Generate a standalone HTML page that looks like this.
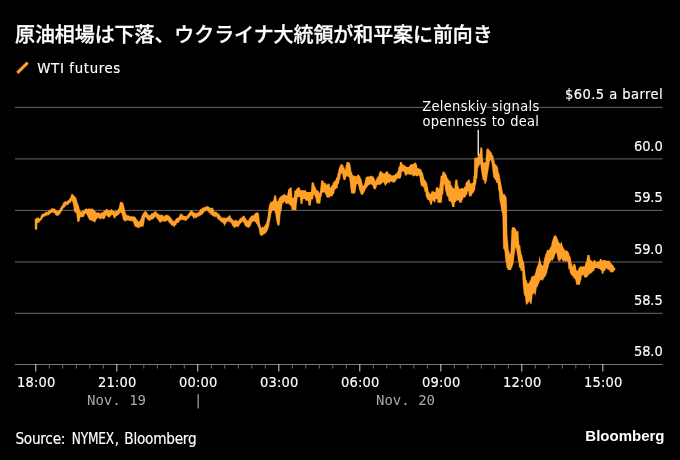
<!DOCTYPE html>
<html lang="ja"><head><meta charset="utf-8"><title>原油相場は下落、ウクライナ大統領が和平案に前向き</title>
<style>
html,body{margin:0;padding:0;background:#000;}
body{width:680px;height:460px;overflow:hidden;position:relative;}
svg{position:absolute;left:0;top:0;display:block;}
text{font-family:"DejaVu Sans Condensed","DejaVu Sans","Liberation Sans",sans-serif;font-stretch:condensed;font-size:14.5px;fill:#fff;white-space:pre;stroke:#fff;stroke-width:0.15px;}
.title{font-family:"Liberation Sans","Noto Sans CJK JP",sans-serif;font-stretch:normal;font-weight:500;font-size:20px;letter-spacing:-0.08px;stroke:#fff;stroke-width:0.3;}
.legend{font-size:14.8px;letter-spacing:0.65px;}
.yl{font-size:14.5px;letter-spacing:0.45px;text-anchor:end;}
.xl{font-size:14.5px;letter-spacing:0.2px;text-anchor:middle;}
.dl{font-family:"DejaVu Sans Mono","Liberation Mono",monospace;font-stretch:normal;font-size:14px;fill:#aaa;stroke:none;text-anchor:middle;}
.ann{font-size:14.5px;letter-spacing:0.3px;paint-order:stroke;stroke:#000;stroke-width:1.6px;stroke-linejoin:round;}
.src{font-size:15.2px;letter-spacing:-0.25px;}
.logo{font-family:"Liberation Sans",sans-serif;font-stretch:normal;font-weight:bold;stroke:none;font-size:15px;letter-spacing:0px;text-anchor:end;}
</style></head><body>
<svg width="680" height="460" viewBox="0 0 680 460">
<rect width="680" height="460" fill="#000"/>
<text class="title" x="15" y="42.2">原油相場は下落、ウクライナ大統領が和平案に前向き</text>
<path d="M17.3,72.9 L27.7,62.6" stroke="#ffa028" stroke-width="3" fill="none"/>
<text class="legend" x="37.3" y="73.1">WTI futures</text>
<g>
<rect x="15" y="106.85" width="647.5" height="1" fill="#686868"/>
<rect x="15" y="158.4" width="647.5" height="1" fill="#686868"/>
<rect x="15" y="209.9" width="647.5" height="1" fill="#686868"/>
<rect x="15" y="261.5" width="647.5" height="1" fill="#686868"/>
<rect x="15" y="312.8" width="647.5" height="1" fill="#686868"/>
<rect x="15" y="364.0" width="647.5" height="1" fill="#787878"/>
</g><g>
<rect x="35.3" y="364.0" width="1" height="7.5" fill="#d0d0d0"/>
<rect x="48.8" y="364.0" width="1" height="4.5" fill="#6e6e6e"/>
<rect x="62.3" y="364.0" width="1" height="4.5" fill="#6e6e6e"/>
<rect x="75.8" y="364.0" width="1" height="4.5" fill="#6e6e6e"/>
<rect x="89.3" y="364.0" width="1" height="4.5" fill="#6e6e6e"/>
<rect x="102.8" y="364.0" width="1" height="4.5" fill="#6e6e6e"/>
<rect x="116.3" y="364.0" width="1" height="7.5" fill="#d0d0d0"/>
<rect x="129.8" y="364.0" width="1" height="4.5" fill="#6e6e6e"/>
<rect x="143.3" y="364.0" width="1" height="4.5" fill="#6e6e6e"/>
<rect x="156.8" y="364.0" width="1" height="4.5" fill="#6e6e6e"/>
<rect x="170.3" y="364.0" width="1" height="4.5" fill="#6e6e6e"/>
<rect x="183.8" y="364.0" width="1" height="4.5" fill="#6e6e6e"/>
<rect x="197.3" y="364.0" width="1" height="7.5" fill="#d0d0d0"/>
<rect x="210.8" y="364.0" width="1" height="4.5" fill="#6e6e6e"/>
<rect x="224.3" y="364.0" width="1" height="4.5" fill="#6e6e6e"/>
<rect x="237.8" y="364.0" width="1" height="4.5" fill="#6e6e6e"/>
<rect x="251.3" y="364.0" width="1" height="4.5" fill="#6e6e6e"/>
<rect x="264.8" y="364.0" width="1" height="4.5" fill="#6e6e6e"/>
<rect x="278.3" y="364.0" width="1" height="7.5" fill="#d0d0d0"/>
<rect x="291.8" y="364.0" width="1" height="4.5" fill="#6e6e6e"/>
<rect x="305.3" y="364.0" width="1" height="4.5" fill="#6e6e6e"/>
<rect x="318.8" y="364.0" width="1" height="4.5" fill="#6e6e6e"/>
<rect x="332.3" y="364.0" width="1" height="4.5" fill="#6e6e6e"/>
<rect x="345.8" y="364.0" width="1" height="4.5" fill="#6e6e6e"/>
<rect x="359.3" y="364.0" width="1" height="7.5" fill="#d0d0d0"/>
<rect x="372.8" y="364.0" width="1" height="4.5" fill="#6e6e6e"/>
<rect x="386.3" y="364.0" width="1" height="4.5" fill="#6e6e6e"/>
<rect x="399.8" y="364.0" width="1" height="4.5" fill="#6e6e6e"/>
<rect x="413.3" y="364.0" width="1" height="4.5" fill="#6e6e6e"/>
<rect x="426.8" y="364.0" width="1" height="4.5" fill="#6e6e6e"/>
<rect x="440.3" y="364.0" width="1" height="7.5" fill="#d0d0d0"/>
<rect x="453.8" y="364.0" width="1" height="4.5" fill="#6e6e6e"/>
<rect x="467.3" y="364.0" width="1" height="4.5" fill="#6e6e6e"/>
<rect x="480.8" y="364.0" width="1" height="4.5" fill="#6e6e6e"/>
<rect x="494.3" y="364.0" width="1" height="4.5" fill="#6e6e6e"/>
<rect x="507.8" y="364.0" width="1" height="4.5" fill="#6e6e6e"/>
<rect x="521.3" y="364.0" width="1" height="7.5" fill="#d0d0d0"/>
<rect x="534.8" y="364.0" width="1" height="4.5" fill="#6e6e6e"/>
<rect x="548.3" y="364.0" width="1" height="4.5" fill="#6e6e6e"/>
<rect x="561.8" y="364.0" width="1" height="4.5" fill="#6e6e6e"/>
<rect x="575.3" y="364.0" width="1" height="4.5" fill="#6e6e6e"/>
<rect x="588.8" y="364.0" width="1" height="4.5" fill="#6e6e6e"/>
<rect x="602.3" y="364.0" width="1" height="7.5" fill="#d0d0d0"/>
</g>
<text class="yl" x="663" y="99.3">$60.5 a barrel</text>
<text class="yl" x="662.6" y="150.7" style="letter-spacing:-0.1px">60.0</text>
<text class="yl" x="662.6" y="202.1" style="letter-spacing:-0.1px">59.5</text>
<text class="yl" x="662.6" y="253.5" style="letter-spacing:-0.1px">59.0</text>
<text class="yl" x="662.6" y="304.9" style="letter-spacing:-0.1px">58.5</text>
<text class="yl" x="662.6" y="356.3" style="letter-spacing:-0.1px">58.0</text>
<text class="xl" x="36.3" y="387">18:00</text>
<text class="xl" x="117.3" y="387">21:00</text>
<text class="xl" x="198.3" y="387">00:00</text>
<text class="xl" x="279.3" y="387">03:00</text>
<text class="xl" x="360.3" y="387">06:00</text>
<text class="xl" x="441.3" y="387">09:00</text>
<text class="xl" x="522.3" y="387">12:00</text>
<text class="xl" x="603.3" y="387">15:00</text>
<text class="dl" x="116.5" y="405">Nov. 19</text>
<text class="dl" x="405.5" y="405">Nov. 20</text>
<rect x="197.6" y="394" width="1.1" height="14.5" fill="#b4b4b4"/>
<rect x="477.6" y="129.8" width="1.25" height="26" fill="#fff"/>
<text class="ann" x="422.3" y="111">Zelenskiy signals</text>
<text class="ann" x="422.6" y="126.4" style="letter-spacing:0.2px;word-spacing:0.75px">openness to deal</text>
<path d="M34.90,218.50 L35.40,218.89 L35.90,218.65 L36.40,217.91 L36.90,217.80 L37.40,217.68 L37.90,217.90 L38.40,217.46 L38.90,218.22 L39.40,218.20 L39.90,218.81 L40.40,217.85 L40.90,215.85 L41.40,215.08 L41.90,213.90 L42.40,214.24 L42.90,213.99 L43.40,213.18 L43.90,213.93 L44.40,212.99 L44.90,212.68 L45.40,212.66 L45.90,211.39 L46.40,211.69 L46.90,211.97 L47.40,212.32 L47.90,211.54 L48.40,210.76 L48.90,210.10 L49.40,210.62 L49.90,210.28 L50.40,209.62 L50.90,209.09 L51.40,209.08 L51.90,208.19 L52.40,207.63 L52.90,208.58 L53.40,208.95 L53.90,208.47 L54.40,208.38 L54.90,209.09 L55.40,209.43 L55.90,210.03 L56.40,210.60 L56.90,210.29 L57.40,211.07 L57.90,211.57 L58.40,210.44 L58.90,210.05 L59.40,210.39 L59.90,208.80 L60.40,208.08 L60.90,207.70 L61.40,206.01 L61.90,205.64 L62.40,205.38 L62.90,203.65 L63.40,202.75 L63.90,201.93 L64.40,201.87 L64.90,201.45 L65.40,201.29 L65.90,201.49 L66.40,201.54 L66.90,201.48 L67.40,200.75 L67.90,200.64 L68.40,199.89 L68.90,199.96 L69.40,198.70 L69.90,198.11 L70.40,197.74 L70.90,196.08 L71.40,194.42 L71.90,193.65 L72.40,194.44 L72.90,194.02 L73.40,194.92 L73.90,195.56 L74.40,196.07 L74.90,196.84 L75.40,197.03 L75.90,197.67 L76.40,198.68 L76.90,200.46 L77.40,202.62 L77.90,203.77 L78.40,205.10 L78.90,206.38 L79.40,208.83 L79.90,210.17 L80.40,211.06 L80.90,211.97 L81.40,211.70 L81.90,211.46 L82.40,210.63 L82.90,210.46 L83.40,210.72 L83.90,210.71 L84.40,210.00 L84.90,208.92 L85.40,208.91 L85.90,208.65 L86.40,208.32 L86.90,208.65 L87.40,209.34 L87.90,208.97 L88.40,208.98 L88.90,208.32 L89.40,208.77 L89.90,208.38 L90.40,209.26 L90.90,208.90 L91.40,208.55 L91.90,209.06 L92.40,208.54 L92.90,208.77 L93.40,209.71 L93.90,209.87 L94.40,210.44 L94.90,211.05 L95.40,211.54 L95.90,212.07 L96.40,212.54 L96.90,212.65 L97.40,212.83 L97.90,212.75 L98.40,212.58 L98.90,212.24 L99.40,212.80 L99.90,213.67 L100.40,213.46 L100.90,213.27 L101.40,212.53 L101.90,212.32 L102.40,212.40 L102.90,211.90 L103.40,211.81 L103.90,211.19 L104.40,210.83 L104.90,210.51 L105.40,209.92 L105.90,209.50 L106.40,209.14 L106.90,208.75 L107.40,209.60 L107.90,209.65 L108.40,209.97 L108.90,210.34 L109.40,210.73 L109.90,209.92 L110.40,210.02 L110.90,209.87 L111.40,208.91 L111.90,209.45 L112.40,210.53 L112.90,210.48 L113.40,210.98 L113.90,210.92 L114.40,211.43 L114.90,211.38 L115.40,210.96 L115.90,211.45 L116.40,210.77 L116.90,211.11 L117.40,210.33 L117.90,209.58 L118.40,208.77 L118.90,207.63 L119.40,205.67 L119.90,203.07 L120.40,202.03 L120.90,201.74 L121.40,202.32 L121.90,201.96 L122.40,202.66 L122.90,202.57 L123.40,203.65 L123.90,206.07 L124.40,208.19 L124.90,209.96 L125.40,212.13 L125.90,213.74 L126.40,214.19 L126.90,214.90 L127.40,215.55 L127.90,215.49 L128.40,215.51 L128.90,215.58 L129.40,216.14 L129.90,215.87 L130.40,216.63 L130.90,216.61 L131.40,216.35 L131.90,216.26 L132.40,216.50 L132.90,216.36 L133.40,216.79 L133.90,216.77 L134.40,216.48 L134.90,216.82 L135.40,217.41 L135.90,217.50 L136.40,219.37 L136.90,219.42 L137.40,220.31 L137.90,221.00 L138.40,221.22 L138.90,222.09 L139.40,220.94 L139.90,220.91 L140.40,219.45 L140.90,218.86 L141.40,217.23 L141.90,215.71 L142.40,214.78 L142.90,213.71 L143.40,213.08 L143.90,212.60 L144.40,212.00 L144.90,211.12 L145.40,210.76 L145.90,211.93 L146.40,211.90 L146.90,211.81 L147.40,214.00 L147.90,214.78 L148.40,214.25 L148.90,214.88 L149.40,215.43 L149.90,215.24 L150.40,215.11 L150.90,214.10 L151.40,213.59 L151.90,213.17 L152.40,213.43 L152.90,213.15 L153.40,212.59 L153.90,212.64 L154.40,211.89 L154.90,211.77 L155.40,211.55 L155.90,210.95 L156.40,212.37 L156.90,212.89 L157.40,213.04 L157.90,213.44 L158.40,214.24 L158.90,214.47 L159.40,214.18 L159.90,215.41 L160.40,215.14 L160.90,214.31 L161.40,215.04 L161.90,214.92 L162.40,214.97 L162.90,215.28 L163.40,216.25 L163.90,216.74 L164.40,215.27 L164.90,216.15 L165.40,215.38 L165.90,214.79 L166.40,214.64 L166.90,214.42 L167.40,215.43 L167.90,215.12 L168.40,215.69 L168.90,215.40 L169.40,216.38 L169.90,216.33 L170.40,217.58 L170.90,217.77 L171.40,218.64 L171.90,218.83 L172.40,220.36 L172.90,220.79 L173.40,221.05 L173.90,220.61 L174.40,221.79 L174.90,220.45 L175.40,219.71 L175.90,218.84 L176.40,218.47 L176.90,218.00 L177.40,217.99 L177.90,217.42 L178.40,217.76 L178.90,216.53 L179.40,215.97 L179.90,214.66 L180.40,213.68 L180.90,213.80 L181.40,213.53 L181.90,214.80 L182.40,214.54 L182.90,214.69 L183.40,216.04 L183.90,215.99 L184.40,216.25 L184.90,216.10 L185.40,216.08 L185.90,216.29 L186.40,216.66 L186.90,215.82 L187.40,215.26 L187.90,214.73 L188.40,213.71 L188.90,213.30 L189.40,212.67 L189.90,211.63 L190.40,211.08 L190.90,210.14 L191.40,210.90 L191.90,210.55 L192.40,211.56 L192.90,211.23 L193.40,211.91 L193.90,212.95 L194.40,213.03 L194.90,212.06 L195.40,213.46 L195.90,213.23 L196.40,212.84 L196.90,213.25 L197.40,213.25 L197.90,211.84 L198.40,212.22 L198.90,212.23 L199.40,211.16 L199.90,210.22 L200.40,209.19 L200.90,209.06 L201.40,209.23 L201.90,208.11 L202.40,208.42 L202.90,207.41 L203.40,207.73 L203.90,207.29 L204.40,207.34 L204.90,206.67 L205.40,207.34 L205.90,206.99 L206.40,205.83 L206.90,206.89 L207.40,206.11 L207.90,206.50 L208.40,206.51 L208.90,207.18 L209.40,206.94 L209.90,207.47 L210.40,208.33 L210.90,208.37 L211.40,207.71 L211.90,208.11 L212.40,207.65 L212.90,207.96 L213.40,209.56 L213.90,211.34 L214.40,211.42 L214.90,212.24 L215.40,211.71 L215.90,212.01 L216.40,212.11 L216.90,212.19 L217.40,213.57 L217.90,213.54 L218.40,214.01 L218.90,213.17 L219.40,214.69 L219.90,215.46 L220.40,215.92 L220.90,216.51 L221.40,216.94 L221.90,218.01 L222.40,218.15 L222.90,217.42 L223.40,218.23 L223.90,217.32 L224.40,217.94 L224.90,217.64 L225.40,218.53 L225.90,217.75 L226.40,218.14 L226.90,217.02 L227.40,217.84 L227.90,217.10 L228.40,216.02 L228.90,216.39 L229.40,214.92 L229.90,215.49 L230.40,215.81 L230.90,217.83 L231.40,218.62 L231.90,218.18 L232.40,219.69 L232.90,219.39 L233.40,219.95 L233.90,221.15 L234.40,220.87 L234.90,220.65 L235.40,220.10 L235.90,219.45 L236.40,220.45 L236.90,220.13 L237.40,220.70 L237.90,220.90 L238.40,220.81 L238.90,220.84 L239.40,219.22 L239.90,218.23 L240.40,218.64 L240.90,217.60 L241.40,217.77 L241.90,217.57 L242.40,216.85 L242.90,216.43 L243.40,215.38 L243.90,216.10 L244.40,216.18 L244.90,217.01 L245.40,218.10 L245.90,218.71 L246.40,219.44 L246.90,220.11 L247.40,220.66 L247.90,220.64 L248.40,220.72 L248.90,219.15 L249.40,218.21 L249.90,217.90 L250.40,217.15 L250.90,216.59 L251.40,215.62 L251.90,215.91 L252.40,215.63 L252.90,215.33 L253.40,215.27 L253.90,215.22 L254.40,214.87 L254.90,213.48 L255.40,213.24 L255.90,212.67 L256.40,212.98 L256.90,212.33 L257.40,212.52 L257.90,212.64 L258.40,213.12 L258.90,214.95 L259.40,219.35 L259.90,223.97 L260.40,225.62 L260.90,227.16 L261.40,227.29 L261.90,227.89 L262.40,226.78 L262.90,227.26 L263.40,227.14 L263.90,227.12 L264.40,225.87 L264.90,226.00 L265.40,224.47 L265.90,224.12 L266.40,222.05 L266.90,220.58 L267.40,218.00 L267.90,215.20 L268.40,210.14 L268.90,207.36 L269.40,204.37 L269.90,203.28 L270.40,202.60 L270.90,202.07 L271.40,201.90 L271.90,201.49 L272.40,201.73 L272.90,200.78 L273.40,200.21 L273.90,198.17 L274.40,195.48 L274.90,194.93 L275.40,195.50 L275.90,195.86 L276.40,198.52 L276.90,200.91 L277.40,201.41 L277.90,201.21 L278.40,200.23 L278.90,198.73 L279.40,197.65 L279.90,197.21 L280.40,196.67 L280.90,196.38 L281.40,195.80 L281.90,195.41 L282.40,195.37 L282.90,195.10 L283.40,194.90 L283.90,194.17 L284.40,193.74 L284.90,194.68 L285.40,195.05 L285.90,195.37 L286.40,195.12 L286.90,196.04 L287.40,194.87 L287.90,192.35 L288.40,189.01 L288.90,189.11 L289.40,188.80 L289.90,188.18 L290.40,187.49 L290.52,187.49 L290.65,187.49 L290.77,187.49 L290.90,187.49 L291.02,187.49 L291.15,187.49 L291.27,187.49 L291.40,187.49 L291.52,187.61 L291.65,188.80 L291.77,190.64 L291.90,192.48 L292.02,194.33 L292.15,196.17 L292.27,197.45 L292.40,197.81 L292.52,197.81 L292.65,197.81 L292.77,197.81 L292.90,197.81 L293.02,197.81 L293.15,197.81 L293.27,197.81 L293.40,197.81 L293.52,197.81 L293.65,197.81 L293.77,197.81 L293.90,197.22 L294.02,196.05 L294.15,194.75 L294.27,193.45 L294.40,192.16 L294.52,190.98 L294.65,190.55 L294.77,190.55 L294.90,190.55 L295.02,190.55 L295.15,190.55 L295.27,190.55 L295.40,190.55 L295.52,190.55 L295.65,190.55 L295.77,190.45 L295.90,190.18 L296.02,189.84 L296.15,189.50 L296.27,189.16 L296.40,188.82 L296.52,188.66 L296.65,188.64 L296.77,188.64 L296.90,188.64 L297.02,188.64 L297.15,188.64 L297.27,188.61 L297.40,188.47 L297.52,188.26 L297.65,188.06 L297.77,187.85 L297.90,187.65 L298.02,187.52 L298.15,187.49 L298.27,187.49 L298.40,187.49 L298.52,187.49 L298.65,187.49 L298.77,187.49 L298.90,187.49 L299.02,187.49 L299.15,187.49 L299.27,187.49 L299.40,187.49 L299.52,187.49 L299.65,187.75 L299.77,188.20 L299.90,188.68 L300.02,189.16 L300.15,189.64 L300.27,190.03 L300.40,190.17 L300.52,190.17 L300.65,190.17 L300.77,190.17 L300.90,190.17 L301.02,190.17 L301.15,190.17 L301.27,190.17 L301.40,190.17 L301.52,190.17 L301.65,190.17 L301.77,190.17 L301.90,190.17 L302.02,190.17 L302.15,190.17 L302.27,190.17 L302.40,190.17 L302.52,190.17 L302.65,190.17 L302.77,190.17 L302.90,190.17 L303.02,190.17 L303.15,190.17 L303.27,190.17 L303.40,190.17 L303.52,190.17 L303.65,190.17 L303.77,190.17 L303.90,190.17 L304.02,190.17 L304.15,190.17 L304.27,190.17 L304.40,190.17 L304.52,190.17 L304.65,190.17 L304.77,190.17 L304.90,190.17 L305.02,190.17 L305.15,190.17 L305.27,190.17 L305.40,190.17 L305.52,190.17 L305.65,190.17 L305.77,190.36 L305.90,190.70 L306.02,191.04 L306.15,191.38 L306.27,191.72 L306.40,191.99 L306.52,192.08 L306.65,192.08 L306.77,192.08 L306.90,192.08 L307.02,192.08 L307.15,192.08 L307.27,192.08 L307.40,192.08 L307.52,192.08 L307.65,192.08 L307.77,192.08 L307.90,192.08 L308.02,192.08 L308.15,192.08 L308.27,192.08 L308.40,192.08 L308.52,192.08 L308.65,192.08 L308.77,192.08 L308.90,192.08 L309.02,192.08 L309.15,192.08 L309.27,192.08 L309.40,192.08 L309.52,192.08 L309.65,192.08 L309.77,192.08 L309.90,192.08 L310.02,192.08 L310.15,192.08 L310.27,192.08 L310.40,192.08 L310.52,192.08 L310.65,192.08 L310.77,192.08 L310.90,192.08 L311.02,191.93 L311.15,190.80 L311.27,189.10 L311.40,187.39 L311.52,185.68 L311.65,183.98 L311.77,182.83 L311.90,182.52 L312.02,182.52 L312.15,182.52 L312.27,182.52 L312.40,182.52 L312.52,182.52 L312.65,182.52 L312.77,182.52 L312.90,182.52 L313.02,182.52 L313.15,182.52 L313.27,182.52 L313.40,182.52 L313.52,182.52 L313.65,182.52 L313.77,182.79 L313.90,183.34 L314.02,183.96 L314.15,184.57 L314.27,185.19 L314.40,185.75 L314.52,185.96 L314.65,185.96 L314.77,185.96 L314.90,186.10 L315.02,186.44 L315.15,186.85 L315.27,187.26 L315.40,187.67 L315.52,188.08 L315.65,188.25 L315.77,188.26 L315.90,188.26 L316.02,188.35 L316.15,188.66 L316.27,189.07 L316.40,189.48 L316.52,189.89 L316.65,190.30 L316.77,190.51 L316.90,190.55 L317.02,190.55 L317.15,190.55 L317.27,190.55 L317.40,190.55 L317.52,190.55 L317.65,190.55 L317.77,190.55 L317.90,190.55 L318.02,190.55 L318.15,190.55 L318.27,190.56 L318.40,190.81 L318.52,191.22 L318.65,191.63 L318.77,192.04 L318.90,192.45 L319.02,192.75 L319.15,192.84 L319.27,192.84 L319.40,192.84 L319.52,192.84 L319.65,192.84 L319.77,192.84 L319.90,192.38 L320.02,191.49 L320.15,190.54 L320.27,189.58 L320.40,188.63 L320.52,187.79 L320.65,186.98 L320.77,185.90 L320.90,184.67 L321.02,183.44 L321.15,182.21 L321.27,181.06 L321.40,180.61 L321.52,180.61 L321.65,180.61 L321.77,180.61 L321.90,180.61 L322.02,180.61 L322.15,180.61 L322.27,180.61 L322.40,180.61 L322.52,180.61 L322.65,180.61 L322.77,180.61 L322.90,180.61 L323.02,180.61 L323.15,180.61 L323.27,180.68 L323.40,180.97 L323.52,181.38 L323.65,181.79 L323.77,182.20 L323.90,182.61 L324.02,182.85 L324.15,182.90 L324.27,182.90 L324.40,182.90 L324.52,182.90 L324.65,182.90 L324.77,182.90 L324.90,182.90 L325.02,182.90 L325.15,182.90 L325.27,182.90 L325.40,182.90 L325.52,182.90 L325.65,183.10 L325.77,183.43 L325.90,183.77 L326.02,184.11 L326.15,184.45 L326.27,184.72 L326.40,184.81 L326.52,184.81 L326.65,184.81 L326.77,184.81 L326.90,184.81 L327.02,184.81 L327.15,184.73 L327.27,184.55 L327.40,184.34 L327.52,184.14 L327.65,183.93 L327.77,183.74 L327.90,183.67 L328.02,183.67 L328.15,183.67 L328.27,183.67 L328.40,183.67 L328.52,183.67 L328.65,183.67 L328.77,183.67 L328.90,183.67 L329.02,183.67 L329.15,183.67 L329.27,183.67 L329.40,183.81 L329.52,184.32 L329.65,185.00 L329.77,185.69 L329.90,186.37 L330.02,187.05 L330.15,187.42 L330.27,187.49 L330.40,187.49 L330.52,187.49 L330.65,187.49 L330.77,187.49 L330.90,187.46 L331.02,187.19 L331.15,186.78 L331.27,186.37 L331.40,185.96 L331.52,185.56 L331.65,185.27 L331.77,185.20 L331.90,185.20 L332.02,185.20 L332.15,185.20 L332.27,185.20 L332.40,185.20 L332.52,184.90 L332.65,184.38 L332.77,183.84 L332.90,183.29 L333.02,182.74 L333.15,182.29 L333.27,182.14 L333.40,182.14 L333.52,182.14 L333.65,182.14 L333.77,182.14 L333.90,182.14 L334.02,182.03 L334.15,181.79 L334.27,181.52 L334.40,181.25 L334.52,180.98 L334.65,180.71 L334.77,180.61 L334.90,180.61 L335.02,180.61 L335.15,180.61 L335.27,180.61 L335.40,180.61 L335.52,180.47 L335.65,180.05 L335.77,179.50 L335.90,178.96 L336.02,178.41 L336.15,177.86 L336.27,177.59 L336.40,177.55 L336.52,177.55 L336.65,177.55 L336.77,177.55 L336.90,177.55 L337.02,177.46 L337.15,176.90 L337.27,176.08 L337.40,175.26 L337.52,174.44 L337.65,173.62 L337.77,173.10 L337.90,172.96 L338.02,172.96 L338.15,172.96 L338.27,172.96 L338.40,169.73 L338.52,169.73 L338.65,169.73 L338.77,169.73 L338.90,169.28 L339.02,168.73 L339.15,168.18 L339.27,167.64 L339.40,167.09 L339.52,166.67 L339.65,166.67 L339.77,166.67 L339.90,166.67 L340.02,166.40 L340.15,165.99 L340.27,165.58 L340.40,165.17 L340.52,164.76 L340.65,164.37 L340.77,164.37 L340.90,164.37 L341.02,164.37 L341.15,164.37 L341.27,164.37 L341.40,164.37 L341.52,164.37 L341.65,164.37 L341.77,164.37 L341.90,164.40 L342.02,164.47 L342.15,164.54 L342.27,164.60 L342.40,164.67 L342.52,164.74 L342.65,164.76 L342.77,164.76 L342.90,164.76 L343.02,164.85 L343.15,165.32 L343.27,165.80 L343.40,166.28 L343.52,166.76 L343.65,167.23 L343.77,167.43 L343.90,167.43 L344.02,167.43 L344.15,167.44 L344.27,167.85 L344.40,168.26 L344.52,168.67 L344.65,169.08 L344.77,169.49 L344.90,169.73 L345.02,169.73 L345.15,169.73 L345.27,169.73 L345.40,169.04 L345.52,168.22 L345.65,167.40 L345.77,166.58 L345.90,165.76 L346.02,165.14 L346.15,164.74 L346.27,164.20 L346.40,163.65 L346.52,163.11 L346.65,162.56 L346.77,162.08 L346.90,162.08 L347.02,162.08 L347.15,162.08 L347.27,162.08 L347.40,162.08 L347.52,162.08 L347.65,162.08 L347.77,162.08 L347.90,162.08 L348.02,162.08 L348.15,162.08 L348.27,162.08 L348.40,162.13 L348.52,162.27 L348.65,162.40 L348.77,162.54 L348.90,162.68 L349.02,162.81 L349.15,162.85 L349.27,162.85 L349.40,162.85 L349.52,162.85 L349.65,162.85 L349.77,162.85 L349.90,162.94 L350.02,163.62 L350.15,164.31 L350.27,164.99 L350.40,165.67 L350.52,166.35 L350.65,166.69 L350.77,167.65 L350.90,168.60 L351.02,169.56 L351.15,170.51 L351.27,171.47 L351.40,172.02 L351.52,172.02 L351.65,172.02 L351.77,172.02 L351.90,172.48 L352.02,173.03 L352.15,173.58 L352.27,174.12 L352.40,174.67 L352.52,175.08 L352.65,175.08 L352.77,175.08 L352.90,175.08 L353.02,175.17 L353.15,175.31 L353.27,175.44 L353.40,175.58 L353.52,175.72 L353.65,175.84 L353.77,175.84 L353.90,175.84 L354.02,175.84 L354.15,175.84 L354.27,175.84 L354.40,175.84 L354.52,175.84 L354.65,175.84 L354.77,175.84 L354.90,175.87 L355.02,175.94 L355.15,176.01 L355.27,176.07 L355.40,176.14 L355.52,176.21 L355.65,176.22 L355.77,176.22 L355.90,176.22 L356.02,176.22 L356.15,176.22 L356.27,176.22 L356.40,176.22 L356.52,176.22 L356.65,176.22 L356.77,176.20 L356.90,175.93 L357.02,175.65 L357.15,175.38 L357.27,175.11 L357.40,174.83 L357.52,174.70 L357.65,174.70 L357.77,174.70 L357.90,174.70 L358.02,174.70 L358.15,174.70 L358.27,174.70 L358.40,174.70 L358.52,174.70 L358.65,174.70 L358.77,174.70 L358.90,174.70 L359.02,174.70 L359.15,174.95 L359.27,175.29 L359.40,175.63 L359.52,175.97 L359.65,176.32 L359.77,176.61 L359.90,176.61 L360.02,176.61 L360.15,176.61 L360.27,176.84 L360.40,177.25 L360.52,177.66 L360.65,178.07 L360.77,178.48 L360.90,178.89 L361.02,178.90 L361.15,178.90 L361.27,178.90 L361.40,179.17 L361.52,179.85 L361.65,180.54 L361.77,181.22 L361.90,181.90 L362.02,182.58 L362.15,182.88 L362.27,183.42 L362.40,183.97 L362.52,184.51 L362.65,185.06 L362.77,185.61 L362.90,185.78 L363.02,185.78 L363.15,185.78 L363.27,185.78 L363.40,185.78 L363.52,185.78 L363.65,185.77 L363.77,185.49 L363.90,185.22 L364.02,184.95 L364.15,184.68 L364.27,184.40 L364.40,184.25 L364.52,183.62 L364.65,182.93 L364.77,182.25 L364.90,181.57 L365.02,180.88 L365.15,180.43 L365.27,179.98 L365.40,179.44 L365.52,178.89 L365.65,178.35 L365.77,177.80 L365.90,177.37 L366.02,177.37 L366.15,177.37 L366.27,177.37 L366.40,177.28 L366.52,177.15 L366.65,177.01 L366.77,176.87 L366.90,176.74 L367.02,176.61 L367.15,176.61 L367.27,176.61 L367.40,176.61 L367.52,176.61 L367.65,176.61 L367.77,176.61 L367.90,176.61 L368.02,176.61 L368.15,176.61 L368.27,176.61 L368.40,176.61 L368.52,176.61 L368.65,176.61 L368.77,176.61 L368.90,176.61 L369.02,176.61 L369.15,176.61 L369.27,176.61 L369.40,176.61 L369.52,176.61 L369.65,176.61 L369.77,176.59 L369.90,176.45 L370.02,176.32 L370.15,176.18 L370.27,176.04 L370.40,175.91 L370.52,175.84 L370.65,175.84 L370.77,175.84 L370.90,175.84 L371.02,175.84 L371.15,175.84 L371.27,175.84 L371.40,175.84 L371.52,175.84 L371.65,175.84 L371.77,175.96 L371.90,176.09 L372.02,176.23 L372.15,176.36 L372.27,176.50 L372.40,176.61 L372.52,176.61 L372.65,176.61 L372.77,176.61 L372.90,176.61 L373.02,176.61 L373.15,176.61 L373.27,176.61 L373.40,176.61 L373.52,176.61 L373.65,176.83 L373.77,177.24 L373.90,177.65 L374.02,178.06 L374.15,178.47 L374.27,178.88 L374.40,178.90 L374.52,178.90 L374.65,178.90 L374.77,179.05 L374.90,179.46 L375.02,179.87 L375.15,180.28 L375.27,180.69 L375.40,181.10 L375.52,181.19 L375.65,181.19 L375.77,181.19 L375.90,181.09 L376.02,180.54 L376.15,180.00 L376.27,179.45 L376.40,178.91 L376.52,178.36 L376.65,178.14 L376.77,178.14 L376.90,178.14 L377.02,178.13 L377.15,177.86 L377.27,177.59 L377.40,177.31 L377.52,177.04 L377.65,176.77 L377.77,176.61 L377.90,176.61 L378.02,176.61 L378.15,176.61 L378.27,176.61 L378.40,176.61 L378.52,176.61 L378.65,176.07 L378.77,175.39 L378.90,174.71 L379.02,174.02 L379.15,173.34 L379.27,172.78 L379.40,172.60 L379.52,172.33 L379.65,172.06 L379.77,171.78 L379.90,171.51 L380.02,171.26 L380.15,171.26 L380.27,171.26 L380.40,171.26 L380.52,171.26 L380.65,171.26 L380.77,171.26 L380.90,171.26 L381.02,171.26 L381.15,171.26 L381.27,171.33 L381.40,171.54 L381.52,171.74 L381.65,171.95 L381.77,172.15 L381.90,172.36 L382.02,172.40 L382.15,172.40 L382.27,172.40 L382.40,172.40 L382.52,172.40 L382.65,172.40 L382.77,172.43 L382.90,172.64 L383.02,172.84 L383.15,173.05 L383.27,173.25 L383.40,173.46 L383.52,173.55 L383.65,173.55 L383.77,173.55 L383.90,173.55 L384.02,173.55 L384.15,173.55 L384.27,173.55 L384.40,173.55 L384.52,173.55 L384.65,173.55 L384.77,173.43 L384.90,173.30 L385.02,173.16 L385.15,173.02 L385.27,172.89 L385.40,172.78 L385.52,172.58 L385.65,172.31 L385.77,172.04 L385.90,171.76 L386.02,171.49 L386.15,171.26 L386.27,171.26 L386.40,171.26 L386.52,171.26 L386.65,171.26 L386.77,171.26 L386.90,171.26 L387.02,171.26 L387.15,171.26 L387.27,171.26 L387.40,171.38 L387.52,171.65 L387.65,171.92 L387.77,172.20 L387.90,172.47 L388.02,172.74 L388.15,172.78 L388.27,172.78 L388.40,172.78 L388.52,172.86 L388.65,173.13 L388.77,173.40 L388.90,173.68 L389.02,173.95 L389.15,174.22 L389.27,174.31 L389.40,174.31 L389.52,174.31 L389.65,174.31 L389.77,174.31 L389.90,174.31 L390.02,174.31 L390.15,174.31 L390.27,174.31 L390.40,174.31 L390.52,174.31 L390.65,174.31 L390.77,174.43 L390.90,174.63 L391.02,174.83 L391.15,175.04 L391.27,175.24 L391.40,175.42 L391.52,175.46 L391.65,175.46 L391.77,175.46 L391.90,175.46 L392.02,175.46 L392.15,175.46 L392.27,175.46 L392.40,175.46 L392.52,175.46 L392.65,175.46 L392.77,175.46 L392.90,175.46 L393.02,175.44 L393.15,175.38 L393.27,175.31 L393.40,175.24 L393.52,175.17 L393.65,175.11 L393.77,175.08 L393.90,175.08 L394.02,175.08 L394.15,175.08 L394.27,175.08 L394.40,175.08 L394.52,175.08 L394.65,175.08 L394.77,175.08 L394.90,175.06 L395.02,174.83 L395.15,174.56 L395.27,174.29 L395.40,174.01 L395.52,173.74 L395.65,173.58 L395.77,173.55 L395.90,173.55 L396.02,173.55 L396.15,173.55 L396.27,173.55 L396.40,173.55 L396.52,173.55 L396.65,173.55 L396.77,173.55 L396.90,173.28 L397.02,172.89 L397.15,172.48 L397.27,172.07 L397.40,171.66 L397.52,171.32 L397.65,171.26 L397.77,171.26 L397.90,171.26 L398.02,170.84 L398.15,170.08 L398.27,169.26 L398.40,168.44 L398.52,167.63 L398.65,166.83 L398.77,166.67 L398.90,166.67 L399.02,166.67 L399.15,166.67 L399.27,166.67 L399.40,166.67 L399.52,166.41 L399.65,165.69 L399.77,164.87 L399.90,164.05 L400.02,163.23 L400.15,162.41 L400.27,162.11 L400.40,162.08 L400.52,162.08 L400.65,162.08 L400.77,162.08 L400.90,162.08 L401.02,162.08 L401.15,162.08 L401.27,162.08 L401.40,162.08 L401.52,162.08 L401.65,162.08 L401.77,162.10 L401.90,162.49 L402.02,162.96 L402.15,163.44 L402.27,163.92 L402.40,164.40 L402.52,164.70 L402.65,164.76 L402.77,164.76 L402.90,164.76 L403.02,164.76 L403.15,164.76 L403.27,164.76 L403.40,164.76 L403.52,164.76 L403.65,164.76 L403.77,164.76 L403.90,164.76 L404.02,164.76 L404.15,164.87 L404.27,165.06 L404.40,165.27 L404.52,165.47 L404.65,165.68 L404.77,165.87 L404.90,165.90 L405.02,165.90 L405.15,165.90 L405.27,165.90 L405.40,165.90 L405.52,165.90 L405.65,165.98 L405.77,166.16 L405.90,166.37 L406.02,166.57 L406.15,166.78 L406.27,166.98 L406.40,167.04 L406.52,167.05 L406.65,167.05 L406.77,167.05 L406.90,167.05 L407.02,167.05 L407.15,167.05 L407.27,167.05 L407.40,167.05 L407.52,167.05 L407.65,167.05 L407.77,167.05 L407.90,167.05 L408.02,167.05 L408.15,167.05 L408.27,167.05 L408.40,167.05 L408.52,167.05 L408.65,167.05 L408.77,166.89 L408.90,166.68 L409.02,166.48 L409.15,166.27 L409.27,166.07 L409.40,165.93 L409.52,165.90 L409.65,165.90 L409.77,165.90 L409.90,165.72 L410.02,165.46 L410.15,165.19 L410.27,164.91 L410.40,164.64 L410.52,164.42 L410.65,164.37 L410.77,164.37 L410.90,164.37 L411.02,164.37 L411.15,164.37 L411.27,164.37 L411.40,164.37 L411.52,164.37 L411.65,164.37 L411.77,164.37 L411.90,164.37 L412.02,164.37 L412.15,164.35 L412.27,164.29 L412.40,164.22 L412.52,164.15 L412.65,164.08 L412.77,164.01 L412.90,163.99 L413.02,163.99 L413.15,163.99 L413.27,163.99 L413.40,163.99 L413.52,163.99 L413.65,163.95 L413.77,163.78 L413.90,163.57 L414.02,163.37 L414.15,163.16 L414.27,162.96 L414.40,162.86 L414.52,162.85 L414.65,162.85 L414.77,162.85 L414.90,162.85 L415.02,162.85 L415.15,162.85 L415.27,162.85 L415.40,162.85 L415.52,162.85 L415.65,162.85 L415.77,162.85 L415.90,162.85 L416.02,163.04 L416.15,163.31 L416.27,163.58 L416.40,163.86 L416.52,164.13 L416.65,164.34 L416.77,164.80 L416.90,165.46 L417.02,166.14 L417.15,166.82 L417.27,167.50 L417.40,168.09 L417.52,168.20 L417.65,168.20 L417.77,168.20 L417.90,168.20 L418.02,168.20 L418.15,168.20 L418.27,168.20 L418.40,168.20 L418.52,168.20 L418.65,168.20 L418.77,168.20 L418.90,168.20 L419.02,168.24 L419.15,168.37 L419.27,168.50 L419.40,168.64 L419.52,168.78 L419.65,168.91 L419.77,168.96 L419.90,168.96 L420.02,168.96 L420.15,168.96 L420.27,168.96 L420.40,168.96 L420.52,169.01 L420.65,169.24 L420.77,169.51 L420.90,169.78 L421.02,170.05 L421.15,170.33 L421.27,170.47 L421.40,170.49 L421.52,170.49 L421.65,170.50 L421.77,170.83 L421.90,171.24 L422.02,171.65 L422.15,172.06 L422.27,172.47 L422.40,172.74 L422.52,172.78 L422.65,172.78 L422.77,172.78 L422.90,173.20 L423.02,173.80 L423.15,174.41 L423.27,175.03 L423.40,175.64 L423.52,176.13 L423.65,176.59 L423.77,177.17 L423.90,177.78 L424.02,178.40 L424.15,179.01 L424.27,179.56 L424.40,179.66 L424.52,179.66 L424.65,179.66 L424.77,179.66 L424.90,179.66 L425.02,179.66 L425.15,179.80 L425.27,180.11 L425.40,180.45 L425.52,180.79 L425.65,181.13 L425.77,181.48 L425.90,181.57 L426.02,181.58 L426.15,181.58 L426.27,181.67 L426.40,181.96 L426.52,182.30 L426.65,182.64 L426.77,182.99 L426.90,183.33 L427.02,183.54 L427.15,183.90 L427.27,184.31 L427.40,184.72 L427.52,187.31 L427.65,187.31 L427.77,187.34 L427.90,187.61 L428.02,188.43 L428.15,189.25 L428.27,190.07 L428.40,190.89 L428.52,191.61 L428.65,191.90 L428.77,191.90 L428.90,191.90 L429.02,191.97 L429.15,192.31 L429.27,192.65 L429.40,192.99 L429.52,193.33 L429.65,193.64 L429.77,193.81 L429.90,193.81 L430.02,193.81 L430.15,193.81 L430.27,193.81 L430.40,193.81 L430.52,193.81 L430.65,193.81 L430.77,193.81 L430.90,193.75 L431.02,193.38 L431.15,192.91 L431.27,192.43 L431.40,191.95 L431.52,191.48 L431.65,191.14 L431.77,191.14 L431.90,191.14 L432.02,191.14 L432.15,191.14 L432.27,191.14 L432.40,191.14 L432.52,191.14 L432.65,191.14 L432.77,191.14 L432.90,191.14 L433.02,191.14 L433.15,191.15 L433.27,191.21 L433.40,191.35 L433.52,191.48 L433.65,191.62 L433.77,191.76 L433.90,191.87 L434.02,191.90 L434.15,191.90 L434.27,191.90 L434.40,191.90 L434.52,191.90 L434.65,191.90 L434.77,191.90 L434.90,191.90 L435.02,191.90 L435.15,191.90 L435.27,191.90 L435.40,191.90 L435.52,191.74 L435.65,190.92 L435.77,190.10 L435.90,189.28 L436.02,188.46 L436.15,187.71 L436.27,187.31 L436.40,187.31 L436.52,187.31 L436.65,187.31 L436.77,187.31 L436.90,187.31 L437.02,187.31 L437.15,187.31 L437.27,187.31 L437.40,187.31 L437.52,187.31 L437.65,187.31 L437.77,187.34 L437.90,187.49 L438.02,187.69 L438.15,187.90 L438.27,188.10 L438.40,188.30 L438.52,188.46 L438.65,188.46 L438.77,188.46 L438.90,188.46 L439.02,188.46 L439.15,188.46 L439.27,188.37 L439.40,187.83 L439.52,186.80 L439.65,185.78 L439.77,184.76 L439.90,183.73 L440.02,182.80 L440.15,182.11 L440.27,180.88 L440.40,179.65 L440.52,178.42 L440.65,177.19 L440.77,176.14 L440.90,175.85 L441.02,175.85 L441.15,175.85 L441.27,175.85 L441.40,175.85 L441.52,175.85 L441.65,175.85 L441.77,175.85 L441.90,175.84 L442.02,175.69 L442.15,174.94 L442.27,174.19 L442.40,173.43 L442.52,172.68 L442.65,171.99 L442.77,171.64 L442.90,171.64 L443.02,171.64 L443.15,171.64 L443.27,171.64 L443.40,171.64 L443.52,171.64 L443.65,171.64 L443.77,171.64 L443.90,171.64 L444.02,171.64 L444.15,171.64 L444.27,171.68 L444.40,171.88 L444.52,172.15 L444.65,172.42 L444.77,172.69 L444.90,172.96 L445.02,173.17 L445.15,173.17 L445.27,173.17 L445.40,173.20 L445.52,173.40 L445.65,173.75 L445.77,174.09 L445.90,174.43 L446.02,174.77 L446.15,175.05 L446.27,175.08 L446.40,175.08 L446.52,175.12 L446.65,175.36 L446.77,175.91 L446.90,176.45 L447.02,177.00 L447.15,177.55 L447.27,178.01 L447.40,178.14 L447.52,178.14 L447.65,178.14 L447.77,178.14 L447.90,178.14 L448.02,178.15 L448.15,178.27 L448.27,178.75 L448.40,179.23 L448.52,179.71 L448.65,180.18 L448.77,180.62 L448.90,180.81 L449.02,180.81 L449.15,180.81 L449.27,180.81 L449.40,180.81 L449.52,180.81 L449.65,180.81 L449.77,180.81 L449.90,180.81 L450.02,180.81 L450.15,180.81 L450.27,180.81 L450.40,180.94 L450.52,181.64 L450.65,182.53 L450.77,183.42 L450.90,184.30 L451.02,185.17 L451.15,185.78 L451.27,185.78 L451.40,185.78 L451.52,185.78 L451.65,185.78 L451.77,185.78 L451.90,185.82 L452.02,186.02 L452.15,186.36 L452.27,186.71 L452.40,187.05 L452.52,187.39 L452.65,187.67 L452.77,187.70 L452.90,187.70 L453.02,187.70 L453.15,187.77 L453.27,187.90 L453.40,188.04 L453.52,188.18 L453.65,188.31 L453.77,188.43 L453.90,188.46 L454.02,188.46 L454.15,188.46 L454.27,188.46 L454.40,188.46 L454.52,188.43 L454.65,188.00 L454.77,186.43 L454.90,184.86 L455.02,183.29 L455.15,181.72 L455.27,180.30 L455.40,179.67 L455.52,179.67 L455.65,179.67 L455.77,179.67 L455.90,179.67 L456.02,179.67 L456.15,179.67 L456.27,179.67 L456.40,179.67 L456.52,179.67 L456.65,179.67 L456.77,179.67 L456.90,179.67 L457.02,179.67 L457.15,179.67 L457.27,179.83 L457.40,180.70 L457.52,181.86 L457.65,183.02 L457.77,184.18 L457.90,185.32 L458.02,186.17 L458.15,186.17 L458.27,186.17 L458.40,186.22 L458.52,186.51 L458.65,186.98 L458.77,187.46 L458.90,187.94 L459.02,188.42 L459.15,188.81 L459.27,188.84 L459.40,188.84 L459.52,188.84 L459.65,188.84 L459.77,188.84 L459.90,188.84 L460.02,188.84 L460.15,188.84 L460.27,188.84 L460.40,188.84 L460.52,188.84 L460.65,188.84 L460.77,188.79 L460.90,188.66 L461.02,188.52 L461.15,188.38 L461.27,188.25 L461.40,188.13 L461.52,188.08 L461.65,188.08 L461.77,188.08 L461.90,188.08 L462.02,188.08 L462.15,188.08 L462.27,188.08 L462.40,188.08 L462.52,188.08 L462.65,188.09 L462.77,188.15 L462.90,188.22 L463.02,188.29 L463.15,188.36 L463.27,188.42 L463.40,188.46 L463.52,188.46 L463.65,188.46 L463.77,188.41 L463.90,188.15 L464.02,187.81 L464.15,187.47 L464.27,187.13 L464.40,186.79 L464.52,186.55 L464.65,186.55 L464.77,186.55 L464.90,186.55 L465.02,186.55 L465.15,186.55 L465.27,186.47 L465.40,186.00 L465.52,185.18 L465.65,184.36 L465.77,183.55 L465.90,182.73 L466.02,182.05 L466.15,181.96 L466.27,181.96 L466.40,181.96 L466.52,181.96 L466.65,181.96 L466.77,181.96 L466.90,181.96 L467.02,181.96 L467.15,181.95 L467.27,181.81 L467.40,181.40 L467.52,180.99 L467.65,180.58 L467.77,180.17 L467.90,179.81 L468.02,179.67 L468.15,179.67 L468.27,179.67 L468.40,179.67 L468.52,179.67 L468.65,179.67 L468.77,179.67 L468.90,179.67 L469.02,179.67 L469.15,179.67 L469.27,179.67 L469.40,179.67 L469.52,179.78 L469.65,180.37 L469.77,181.05 L469.90,181.73 L470.02,182.42 L470.15,183.07 L470.27,183.49 L470.40,183.49 L470.52,183.49 L470.65,183.49 L470.77,183.49 L470.90,183.49 L471.02,183.49 L471.15,183.49 L471.27,183.49 L471.40,183.48 L471.52,183.44 L471.65,183.37 L471.77,183.30 L471.90,183.24 L472.02,183.17 L472.15,183.11 L472.27,183.11 L472.40,183.11 L472.52,183.11 L472.65,183.11 L472.77,183.11 L472.90,183.03 L473.02,182.45 L473.15,181.16 L473.27,179.86 L473.40,178.56 L473.52,177.27 L473.65,176.15 L473.77,175.85 L473.90,175.85 L474.02,175.82 L474.15,169.92 L474.27,158.15 L474.40,157.93 L474.52,157.87 L474.65,157.87 L474.77,157.87 L474.90,157.87 L475.02,157.87 L475.15,157.87 L475.27,157.87 L475.40,157.87 L475.52,157.87 L475.65,157.87 L475.77,157.87 L475.90,157.87 L476.02,157.87 L476.15,157.87 L476.27,157.87 L476.40,157.87 L476.52,157.87 L476.65,157.87 L476.77,157.87 L476.90,157.87 L477.02,157.87 L477.15,157.77 L477.27,157.53 L477.40,157.26 L477.52,156.98 L477.65,156.71 L477.77,156.45 L477.90,156.34 L478.02,156.34 L478.15,156.34 L478.27,156.21 L478.40,155.83 L478.52,155.35 L478.65,154.87 L478.77,154.39 L478.90,153.92 L479.02,153.69 L479.15,153.67 L479.27,153.67 L479.40,153.67 L479.52,153.67 L479.65,153.67 L479.77,153.50 L479.90,152.74 L480.02,151.65 L480.15,150.56 L480.27,149.46 L480.40,148.37 L480.52,147.70 L480.65,147.55 L480.77,147.55 L480.90,147.55 L481.02,147.55 L481.15,147.55 L481.27,147.55 L481.40,147.55 L481.52,147.55 L481.65,147.55 L481.77,147.55 L481.90,147.55 L482.02,147.55 L482.15,148.14 L482.27,149.19 L482.40,150.28 L482.52,153.28 L482.65,155.93 L482.77,157.50 L482.90,159.07 L483.02,160.64 L483.15,161.98 L483.27,162.46 L483.40,162.46 L483.52,162.46 L483.65,162.46 L483.77,162.46 L483.90,162.46 L484.02,162.46 L484.15,162.46 L484.27,162.46 L484.40,162.46 L484.52,162.46 L484.65,162.46 L484.77,162.46 L484.90,162.46 L485.02,162.46 L485.15,162.46 L485.27,162.46 L485.40,162.46 L485.52,162.26 L485.65,161.59 L485.77,160.70 L485.90,158.33 L486.02,156.05 L486.15,154.48 L486.27,152.91 L486.40,151.34 L486.52,149.77 L486.65,148.87 L486.77,148.70 L486.90,148.70 L487.02,148.70 L487.15,148.70 L487.27,148.70 L487.40,148.70 L487.52,148.70 L487.65,148.70 L487.77,148.70 L487.90,148.70 L488.02,148.70 L488.15,148.70 L488.27,148.70 L488.40,148.70 L488.52,148.70 L488.65,148.89 L488.77,149.22 L488.90,149.56 L489.02,149.90 L489.15,150.24 L489.27,150.52 L489.40,150.61 L489.52,150.61 L489.65,150.61 L489.77,150.61 L489.90,150.61 L490.02,150.61 L490.15,150.75 L490.27,151.05 L490.40,151.39 L490.52,151.73 L490.65,152.07 L490.77,152.40 L490.90,152.52 L491.02,152.52 L491.15,152.52 L491.27,152.52 L491.40,152.52 L491.52,152.52 L491.65,152.67 L491.77,153.09 L491.90,153.64 L492.02,154.19 L492.15,154.73 L492.27,155.28 L492.40,155.55 L492.52,155.58 L492.65,155.58 L492.77,155.58 L492.90,155.58 L493.02,155.58 L493.15,155.69 L493.27,156.30 L493.40,157.19 L493.52,158.08 L493.65,158.97 L493.77,159.85 L493.90,160.41 L494.02,160.55 L494.15,160.55 L494.27,160.57 L494.40,160.99 L494.52,161.67 L494.65,162.35 L494.77,163.03 L494.90,163.72 L495.02,164.22 L495.15,164.37 L495.27,164.37 L495.40,164.37 L495.52,164.37 L495.65,164.37 L495.77,164.37 L495.90,164.37 L496.02,164.37 L496.15,164.37 L496.27,164.56 L496.40,164.92 L496.52,165.33 L496.65,165.74 L496.77,166.15 L496.90,166.53 L497.02,166.66 L497.15,166.66 L497.27,166.66 L497.40,166.66 L497.52,166.66 L497.65,166.66 L497.77,167.01 L497.90,167.89 L498.02,168.98 L498.15,170.07 L498.27,171.16 L498.40,172.26 L498.52,172.75 L498.65,172.78 L498.77,172.78 L498.90,172.89 L499.02,173.23 L499.52,174.89 L500.02,178.31 L500.52,180.62 L501.02,183.13 L501.52,186.18 L502.02,188.54 L502.52,191.72 L502.65,192.06 L502.77,192.53 L502.90,192.99 L503.02,193.45 L503.15,193.92 L503.27,194.21 L503.40,194.22 L503.52,194.22 L503.65,194.22 L503.77,194.22 L503.90,194.22 L504.02,194.22 L504.15,194.22 L504.27,194.22 L504.40,194.22 L504.52,194.22 L504.65,194.22 L504.77,194.25 L504.90,194.43 L505.02,194.79 L505.15,195.14 L505.27,195.50 L505.40,195.85 L505.52,196.12 L505.65,196.21 L505.77,196.21 L505.90,196.21 L506.02,196.44 L506.15,196.99 L506.27,197.53 L506.40,198.08 L506.52,198.90 L506.65,200.73 L506.77,203.46 L506.90,211.50 L507.02,222.46 L507.15,228.64 L507.27,235.38 L507.40,236.75 L507.52,238.11 L507.65,239.48 L507.77,240.70 L507.90,241.80 L508.02,243.18 L508.15,244.82 L508.27,246.46 L508.40,248.10 L508.52,249.64 L508.65,250.49 L508.77,250.49 L508.90,250.49 L509.02,250.64 L509.15,251.15 L509.27,251.83 L509.40,252.51 L509.52,253.19 L509.65,253.88 L509.77,254.25 L509.90,254.08 L510.02,253.80 L510.15,253.53 L510.27,253.26 L510.40,252.99 L510.52,252.62 L510.65,251.78 L510.77,250.41 L510.90,247.49 L511.02,243.20 L511.15,240.33 L511.27,237.46 L511.40,234.60 L511.52,231.73 L511.65,229.62 L511.77,228.89 L511.90,228.55 L512.02,228.21 L512.15,227.87 L512.27,227.52 L512.40,227.26 L512.52,227.17 L512.65,227.17 L512.77,227.17 L512.90,227.17 L513.02,227.17 L513.15,227.17 L513.27,227.17 L513.40,227.17 L513.52,227.17 L513.65,227.17 L513.77,227.17 L513.90,227.17 L514.02,227.17 L514.15,227.17 L514.27,227.17 L514.40,227.17 L514.52,227.17 L514.65,227.17 L514.77,227.26 L514.90,227.54 L515.02,227.88 L515.15,228.23 L515.27,228.57 L515.40,228.90 L515.52,229.08 L515.65,229.08 L515.77,229.08 L515.90,229.18 L516.02,229.52 L516.15,230.00 L516.27,230.48 L516.40,230.95 L516.52,231.43 L516.65,231.71 L516.77,231.65 L516.90,231.51 L517.02,231.37 L517.15,231.24 L517.27,231.10 L517.40,231.01 L517.52,230.99 L517.65,230.99 L517.77,230.99 L517.90,230.99 L518.02,230.99 L518.15,231.07 L518.27,231.66 L518.40,232.82 L518.52,235.17 L518.65,238.19 L518.77,239.56 L518.90,240.92 L519.02,242.29 L519.15,243.65 L519.27,244.74 L519.40,245.14 L519.52,245.14 L519.65,245.14 L519.77,245.14 L519.90,245.14 L520.02,245.14 L520.15,245.52 L520.27,246.54 L520.40,247.63 L520.52,248.72 L520.65,249.81 L520.77,250.78 L520.90,251.46 L521.02,252.05 L521.15,252.73 L521.27,253.41 L521.40,254.10 L521.52,254.73 L521.65,255.07 L521.77,255.07 L521.90,255.07 L522.02,255.30 L522.15,256.02 L522.27,256.98 L522.40,257.75 L522.52,257.67 L523.02,260.39 L523.52,261.72 L524.02,262.51 L524.52,266.85 L525.02,272.51 L525.52,276.24 L526.02,279.90 L526.52,280.35 L527.02,281.80 L527.52,283.49 L528.02,283.60 L528.52,283.34 L529.02,283.22 L529.52,281.84 L530.02,280.45 L530.52,280.24 L531.02,278.59 L531.52,276.62 L532.02,277.10 L532.52,275.95 L533.02,275.92 L533.52,275.92 L534.02,276.22 L534.52,275.27 L535.02,273.59 L535.52,272.67 L536.02,269.96 L536.52,268.62 L537.02,266.96 L537.52,265.42 L538.02,265.10 L538.52,262.38 L539.02,259.95 L539.52,256.42 L540.02,258.64 L540.52,261.64 L541.02,263.56 L541.52,263.99 L542.02,265.79 L542.52,265.25 L543.02,266.03 L543.52,263.79 L544.02,260.42 L544.52,257.43 L545.02,256.71 L545.52,253.89 L546.02,253.59 L546.52,252.26 L547.02,250.26 L547.52,250.10 L548.02,250.08 L548.52,250.39 L549.02,249.75 L549.52,248.86 L550.02,248.50 L550.52,246.77 L551.02,246.70 L551.52,244.58 L552.02,241.71 L552.52,240.39 L553.02,238.44 L553.52,237.63 L554.02,235.76 L554.52,235.81 L555.02,235.40 L555.52,235.46 L556.02,236.11 L556.52,236.14 L557.02,237.82 L557.52,238.82 L558.02,240.13 L558.52,241.69 L559.02,242.30 L559.52,243.30 L560.02,243.46 L560.52,243.72 L561.02,243.06 L561.52,241.63 L562.02,243.71 L562.52,246.01 L563.02,246.59 L563.52,248.65 L564.02,248.39 L564.52,249.28 L565.02,251.14 L565.52,250.84 L566.02,250.83 L566.52,250.09 L567.02,251.05 L567.52,251.18 L568.02,251.55 L568.52,252.79 L568.65,252.79 L568.77,252.86 L568.90,253.24 L569.02,253.78 L569.15,254.33 L569.27,254.88 L569.40,255.42 L569.52,255.76 L569.65,255.85 L569.77,255.85 L569.90,255.86 L570.02,256.11 L570.15,256.52 L570.27,256.93 L570.40,257.34 L570.52,257.75 L570.65,258.05 L570.77,258.68 L570.90,259.61 L571.02,260.56 L571.15,261.52 L571.27,262.47 L571.40,263.24 L571.52,263.49 L571.65,263.49 L571.77,263.49 L571.90,263.74 L572.02,264.23 L572.15,264.78 L572.27,265.33 L572.40,265.87 L572.52,266.37 L572.65,266.55 L572.77,266.55 L572.90,266.55 L573.02,266.38 L573.15,265.98 L573.27,265.50 L573.40,265.03 L573.52,264.55 L573.65,264.07 L573.77,263.88 L573.90,263.87 L574.02,263.87 L574.15,263.87 L574.27,263.87 L574.40,263.87 L574.52,263.87 L574.65,263.87 L574.77,263.87 L574.90,263.93 L575.02,264.18 L575.15,264.52 L575.27,264.86 L575.40,265.20 L575.52,265.54 L575.65,265.83 L575.77,266.42 L575.90,267.24 L576.02,268.06 L576.15,268.88 L576.27,269.70 L576.40,270.23 L576.52,270.37 L576.65,270.37 L576.77,270.37 L576.90,270.37 L577.02,270.37 L577.15,270.37 L577.27,270.45 L577.40,270.58 L577.52,270.72 L577.65,270.86 L577.77,270.99 L577.90,271.10 L578.02,270.86 L578.15,270.35 L578.27,269.81 L578.40,269.26 L578.52,268.72 L578.65,268.25 L578.77,268.08 L578.90,268.08 L579.02,268.08 L579.15,267.97 L579.27,267.73 L579.40,267.46 L579.52,267.19 L579.65,266.92 L579.77,266.65 L579.90,266.55 L580.02,266.55 L580.15,266.55 L580.27,266.55 L580.40,266.55 L580.52,266.55 L580.65,266.55 L580.77,266.55 L580.90,266.55 L581.02,266.55 L581.15,266.55 L581.27,266.55 L581.40,266.55 L581.52,266.55 L581.65,266.55 L581.77,266.55 L581.90,266.55 L582.02,266.55 L582.15,266.55 L582.27,266.55 L582.40,266.55 L582.52,266.55 L582.65,266.55 L582.77,266.55 L582.90,266.55 L583.02,266.50 L583.15,266.43 L583.27,266.37 L583.40,266.30 L583.52,266.23 L583.65,266.18 L583.77,266.17 L583.90,266.17 L584.02,266.17 L584.15,266.17 L584.27,266.17 L584.40,266.17 L584.52,266.17 L584.65,266.17 L584.77,266.17 L584.90,265.88 L585.02,265.32 L585.15,264.70 L585.27,264.09 L585.40,263.47 L585.52,262.93 L585.65,262.73 L585.77,262.73 L585.90,262.73 L586.02,262.53 L586.15,262.06 L586.27,261.52 L586.40,260.97 L586.52,260.43 L586.65,259.88 L586.77,259.42 L586.90,258.77 L587.02,257.95 L587.15,257.13 L587.27,256.31 L587.40,255.49 L587.52,255.12 L587.65,255.08 L587.77,255.08 L587.90,255.08 L588.02,255.08 L588.15,255.08 L588.27,255.08 L588.40,255.08 L588.52,255.08 L588.65,255.08 L588.77,255.08 L588.90,255.08 L589.02,255.08 L589.15,255.08 L589.27,255.08 L589.40,255.12 L589.52,255.64 L589.65,256.46 L589.77,257.28 L589.90,258.10 L590.02,258.92 L590.15,259.50 L590.27,259.67 L590.40,259.67 L590.52,259.67 L590.65,259.78 L590.77,259.98 L590.90,260.18 L591.02,260.39 L591.15,260.59 L591.27,260.76 L591.40,260.81 L591.52,260.81 L591.65,260.81 L591.77,260.81 L591.90,260.81 L592.02,260.81 L592.15,260.90 L592.27,261.08 L592.40,261.28 L592.52,261.49 L592.65,261.69 L592.77,261.89 L592.90,261.96 L593.02,261.96 L593.15,261.96 L593.27,261.86 L593.40,261.58 L593.52,261.24 L593.65,260.90 L593.77,260.56 L593.90,260.22 L594.02,260.06 L594.15,260.05 L594.27,260.05 L594.40,260.05 L594.52,260.05 L594.65,260.05 L594.77,260.05 L594.90,260.05 L595.02,260.05 L595.15,260.10 L595.27,260.38 L595.40,260.79 L595.52,261.20 L595.65,261.61 L595.77,262.02 L595.90,262.28 L596.02,262.34 L596.15,262.34 L596.27,262.34 L596.40,262.34 L596.52,262.34 L596.65,262.34 L596.77,262.26 L596.90,262.13 L597.02,261.99 L597.15,261.85 L597.27,261.72 L597.40,261.61 L597.52,261.58 L597.65,261.58 L597.77,261.58 L597.90,261.58 L598.02,261.58 L598.15,261.58 L598.27,261.58 L598.40,261.58 L598.52,261.58 L598.65,261.58 L598.77,261.58 L598.90,261.58 L599.02,261.58 L599.15,261.58 L599.27,261.58 L599.40,261.41 L599.52,261.02 L599.65,260.54 L599.77,260.06 L599.90,259.58 L600.02,259.11 L600.15,258.91 L600.27,258.90 L600.40,258.90 L600.52,258.90 L600.65,258.90 L600.77,258.90 L600.90,258.90 L601.02,258.90 L601.15,258.90 L601.27,258.95 L601.40,259.15 L601.52,259.42 L601.65,259.69 L601.77,259.96 L601.90,260.24 L602.02,260.40 L602.15,260.43 L602.27,260.43 L602.40,260.43 L602.52,260.43 L602.65,260.43 L602.77,260.43 L602.90,260.43 L603.02,260.43 L603.15,260.43 L603.27,260.39 L603.40,260.32 L603.52,260.26 L603.65,260.19 L603.77,260.12 L603.90,260.07 L604.02,260.05 L604.15,260.05 L604.27,260.05 L604.40,260.05 L604.52,260.05 L604.65,260.05 L604.77,260.05 L604.90,260.05 L605.02,260.05 L605.15,260.11 L605.27,260.23 L605.40,260.36 L605.52,260.50 L605.65,260.64 L605.77,260.77 L605.90,260.81 L606.02,260.81 L606.15,260.81 L606.27,260.81 L606.40,260.81 L606.52,260.81 L606.65,260.81 L606.77,260.81 L606.90,260.81 L607.02,260.81 L607.15,260.81 L607.27,260.81 L607.40,260.81 L607.52,260.81 L607.65,260.81 L607.77,260.81 L607.90,260.81 L608.02,260.81 L608.15,260.81 L608.27,260.81 L608.40,260.81 L608.52,260.81 L608.65,260.81 L608.77,260.81 L608.90,260.81 L609.02,260.81 L609.15,260.81 L609.27,260.81 L609.40,260.81 L609.52,260.81 L609.65,260.82 L609.77,261.06 L609.90,261.47 L610.02,261.88 L610.15,262.29 L610.27,262.70 L610.40,263.01 L610.52,263.11 L610.65,263.11 L610.77,263.11 L610.90,263.11 L611.02,263.11 L611.15,263.11 L611.27,263.24 L611.40,263.48 L611.52,263.76 L611.65,264.03 L611.77,264.30 L611.90,264.55 L612.02,264.64 L612.15,264.64 L612.27,264.64 L612.40,264.64 L612.52,264.64 L612.65,264.64 L612.77,264.75 L612.90,265.03 L613.02,265.37 L613.15,265.71 L613.27,266.05 L613.40,266.39 L613.52,266.54 L613.65,266.55 L613.77,266.55 L613.90,266.62 L614.02,266.88 L614.15,267.22 L614.27,267.56 L614.40,267.90 L614.52,268.09 L614.65,268.09 L614.77,268.00 L614.90,267.86 L615.02,267.73 L615.15,267.59 L615.15,269.79 L615.02,269.93 L614.90,270.06 L614.77,270.20 L614.65,270.29 L614.52,270.29 L614.40,270.42 L614.27,270.69 L614.15,270.96 L614.02,271.24 L613.90,271.44 L613.77,271.50 L613.65,271.50 L613.52,271.50 L613.40,271.56 L613.27,271.70 L613.15,271.84 L613.02,271.97 L612.90,272.11 L612.77,272.22 L612.65,272.26 L612.52,272.26 L612.40,272.26 L612.27,272.26 L612.15,272.26 L612.02,272.26 L611.90,272.26 L611.77,272.26 L611.65,272.26 L611.52,272.26 L611.40,272.26 L611.27,272.26 L611.15,272.26 L611.02,272.26 L610.90,272.26 L610.77,272.26 L610.65,272.26 L610.52,272.26 L610.40,272.18 L610.27,271.93 L610.15,271.59 L610.02,271.24 L609.90,270.90 L609.77,270.56 L609.65,270.36 L609.52,270.35 L609.40,270.35 L609.27,270.35 L609.15,270.35 L609.02,270.35 L608.90,270.32 L608.77,270.20 L608.65,269.99 L608.52,269.79 L608.40,269.58 L608.27,269.38 L608.15,269.24 L608.02,269.21 L607.90,269.21 L607.77,269.21 L607.65,269.21 L607.52,269.21 L607.40,269.20 L607.27,269.13 L607.15,269.00 L607.02,268.86 L606.90,268.73 L606.77,268.59 L606.65,268.48 L606.52,268.44 L606.40,268.44 L606.27,268.44 L606.15,268.44 L606.02,268.44 L605.90,268.44 L605.77,268.59 L605.65,268.97 L605.52,269.38 L605.40,269.79 L605.27,270.20 L605.15,270.56 L605.02,270.74 L604.90,270.74 L604.77,270.74 L604.65,270.74 L604.52,270.74 L604.40,270.74 L604.27,270.74 L604.15,270.74 L604.02,270.74 L603.90,270.87 L603.77,271.28 L603.65,271.83 L603.52,272.38 L603.40,272.92 L603.27,273.47 L603.15,273.79 L603.02,273.79 L602.90,273.79 L602.77,273.79 L602.65,273.79 L602.52,273.79 L602.40,273.79 L602.27,273.79 L602.15,273.79 L602.02,273.71 L601.90,273.31 L601.77,272.62 L601.65,271.94 L601.52,271.26 L601.40,270.58 L601.27,270.09 L601.15,269.97 L601.02,269.97 L600.90,269.97 L600.77,269.97 L600.65,269.97 L600.52,269.96 L600.40,269.87 L600.27,269.67 L600.15,269.46 L600.02,269.26 L599.90,269.05 L599.77,268.89 L599.65,268.82 L599.52,268.82 L599.40,268.82 L599.27,268.82 L599.15,268.82 L599.02,268.82 L598.90,268.82 L598.77,268.82 L598.65,268.82 L598.52,268.82 L598.40,268.82 L598.27,268.82 L598.15,268.78 L598.02,268.67 L597.90,268.53 L597.77,268.40 L597.65,268.26 L597.52,268.13 L597.40,268.06 L597.27,268.06 L597.15,268.06 L597.02,268.06 L596.90,268.06 L596.77,268.06 L596.65,268.06 L596.52,268.06 L596.40,268.06 L596.27,268.06 L596.15,268.06 L596.02,268.06 L595.90,268.06 L595.77,268.06 L595.65,268.06 L595.52,268.06 L595.40,268.06 L595.27,268.06 L595.15,268.06 L595.02,268.06 L594.90,268.06 L594.77,268.11 L594.65,268.39 L594.52,268.94 L594.40,269.48 L594.27,270.03 L594.15,270.58 L594.02,270.99 L593.90,271.12 L593.77,271.12 L593.65,271.12 L593.52,271.12 L593.40,271.12 L593.27,271.12 L593.15,271.12 L593.02,271.12 L592.90,271.12 L592.77,271.22 L592.65,271.48 L592.52,271.75 L592.40,272.02 L592.27,272.30 L592.15,272.54 L592.02,272.65 L591.90,272.65 L591.77,272.65 L591.65,272.65 L591.52,272.65 L591.40,272.65 L591.27,272.65 L591.15,272.65 L591.02,272.65 L590.90,272.72 L590.77,272.93 L590.65,273.20 L590.52,273.47 L590.40,273.75 L590.27,274.02 L590.15,274.18 L590.02,274.18 L589.90,274.18 L589.77,274.18 L589.65,274.18 L589.52,274.18 L589.40,274.18 L589.27,274.18 L589.15,274.18 L589.02,274.18 L588.90,274.18 L588.77,274.18 L588.65,274.22 L588.52,274.45 L588.40,274.86 L588.27,275.27 L588.15,275.68 L588.02,276.09 L587.90,276.39 L587.77,276.47 L587.65,276.47 L587.52,276.47 L587.40,276.47 L587.27,276.47 L587.15,276.47 L587.02,276.56 L586.90,276.77 L586.77,276.97 L586.65,277.18 L586.52,277.38 L586.40,277.55 L586.27,277.62 L586.15,277.62 L586.02,277.62 L585.90,277.62 L585.77,277.62 L585.65,277.62 L585.52,277.62 L585.40,277.62 L585.27,277.62 L585.15,277.62 L585.02,277.62 L584.90,277.62 L584.77,277.62 L584.65,277.62 L584.52,277.62 L584.40,277.51 L584.27,277.19 L584.15,276.78 L584.02,276.37 L583.90,275.96 L583.77,275.56 L583.65,275.32 L583.52,275.32 L583.40,275.32 L583.27,275.32 L583.15,275.32 L583.02,275.32 L582.90,275.32 L582.77,275.32 L582.65,275.32 L582.52,275.32 L582.40,275.32 L582.27,275.32 L582.15,275.32 L582.02,275.32 L581.90,275.32 L581.77,275.41 L581.65,275.93 L581.52,276.88 L581.40,277.84 L581.27,278.80 L581.15,279.75 L581.02,280.46 L580.90,280.67 L580.77,280.67 L580.65,280.69 L580.52,281.01 L580.40,281.75 L580.27,282.49 L580.15,283.22 L580.02,283.96 L579.90,284.56 L579.77,284.80 L579.65,284.80 L579.52,284.80 L579.40,284.80 L579.27,284.80 L579.15,284.80 L579.02,284.80 L578.90,284.80 L578.77,284.80 L578.65,284.80 L578.52,284.80 L578.40,284.80 L578.27,284.80 L578.15,284.80 L578.02,284.80 L577.90,284.80 L577.77,284.80 L577.65,284.80 L577.52,284.80 L577.40,284.80 L577.27,284.80 L577.15,284.80 L577.02,284.80 L576.90,284.80 L576.77,284.80 L576.65,284.80 L576.52,284.80 L576.40,284.68 L576.27,284.20 L576.15,283.46 L576.02,282.72 L575.90,281.99 L575.77,281.25 L575.65,280.70 L575.52,280.39 L575.40,279.98 L575.27,279.57 L575.15,279.16 L575.02,278.75 L574.90,278.45 L574.77,278.38 L574.65,278.38 L574.52,278.38 L574.40,278.38 L574.27,278.38 L574.15,278.38 L574.02,278.38 L573.90,278.38 L573.77,278.38 L573.65,278.21 L573.52,277.80 L573.40,277.39 L573.27,276.98 L573.15,276.57 L573.02,276.23 L572.90,276.09 L572.77,276.09 L572.65,276.09 L572.52,276.09 L572.40,276.09 L572.27,276.09 L572.15,276.09 L572.02,276.09 L571.90,276.09 L571.77,275.97 L571.65,275.63 L571.52,275.22 L571.40,274.81 L571.27,274.40 L571.15,274.01 L571.02,273.79 L570.90,273.79 L570.77,273.79 L570.65,273.79 L570.52,273.79 L570.40,273.79 L570.27,273.63 L570.15,273.06 L570.02,272.25 L569.90,271.43 L569.77,270.61 L569.65,269.79 L569.52,269.26 L569.40,269.21 L569.27,269.21 L569.15,269.21 L569.02,269.21 L568.90,269.21 L568.77,269.21 L568.65,269.21 L568.52,269.21 L568.02,262.87 L567.52,261.77 L567.02,260.96 L566.52,260.79 L566.02,261.05 L565.52,261.81 L565.02,261.79 L564.52,260.58 L564.02,260.69 L563.52,261.60 L563.02,261.37 L562.52,260.45 L562.02,259.34 L561.52,258.03 L561.02,259.29 L560.52,260.31 L560.02,260.65 L559.52,260.69 L559.02,261.63 L558.52,260.20 L558.02,260.00 L557.52,258.10 L557.02,254.73 L556.52,252.31 L556.02,252.98 L555.52,253.63 L555.02,254.49 L554.52,256.02 L554.02,258.32 L553.52,258.56 L553.02,259.56 L552.52,260.71 L552.02,259.97 L551.52,259.91 L551.02,260.44 L550.52,261.52 L550.02,261.86 L549.52,263.03 L549.02,264.12 L548.52,266.27 L548.02,268.42 L547.52,269.75 L547.02,272.18 L546.52,273.73 L546.02,274.75 L545.52,276.28 L545.02,276.63 L544.52,277.37 L544.02,277.68 L543.52,278.67 L543.02,280.49 L542.52,280.38 L542.02,279.61 L541.52,280.05 L541.02,280.25 L540.52,279.80 L540.02,280.54 L539.52,281.40 L539.02,282.76 L538.52,284.02 L538.02,285.56 L537.52,286.69 L537.02,286.82 L536.52,288.21 L536.02,291.61 L535.52,294.67 L535.02,295.17 L534.52,293.69 L534.02,292.48 L533.52,293.60 L533.02,293.95 L532.52,294.61 L532.02,298.46 L531.52,303.24 L531.02,304.40 L530.52,303.76 L530.02,302.41 L529.52,301.20 L529.02,301.13 L528.52,302.64 L528.02,302.78 L527.52,303.66 L527.02,303.90 L526.52,304.72 L526.02,304.46 L525.52,299.98 L525.02,295.91 L524.52,295.59 L524.02,294.44 L523.52,290.13 L523.02,285.85 L522.52,274.88 L522.40,271.89 L522.27,270.73 L522.15,270.73 L522.02,270.73 L521.90,270.73 L521.77,270.73 L521.65,270.73 L521.52,270.73 L521.40,270.73 L521.27,270.73 L521.15,270.73 L521.02,270.73 L520.90,270.73 L520.77,270.49 L520.65,270.01 L520.52,269.46 L520.40,268.92 L520.27,268.37 L520.15,267.86 L520.02,267.67 L519.90,267.67 L519.77,267.67 L519.65,267.67 L519.52,267.67 L519.40,267.67 L519.27,267.35 L519.15,266.49 L519.02,265.39 L518.90,264.30 L518.77,263.21 L518.65,262.12 L518.52,261.61 L518.40,261.56 L518.27,261.56 L518.15,261.35 L518.02,260.56 L517.90,259.47 L517.77,258.38 L517.65,257.28 L517.52,256.19 L517.40,255.47 L517.27,254.79 L517.15,253.97 L517.02,253.15 L516.90,252.33 L516.77,251.51 L516.65,250.96 L516.52,250.43 L516.40,249.82 L516.27,249.21 L516.15,248.59 L516.02,247.98 L515.90,247.54 L515.77,247.41 L515.65,247.41 L515.52,247.41 L515.40,247.89 L515.27,248.75 L515.15,249.63 L515.02,250.52 L514.90,251.41 L514.77,252.13 L514.65,252.90 L514.52,253.90 L514.40,254.99 L514.27,256.08 L514.15,257.17 L514.02,258.14 L513.90,258.94 L513.77,259.89 L513.65,260.98 L513.52,262.07 L513.40,263.16 L513.27,264.21 L513.15,264.61 L513.02,264.61 L512.90,264.61 L512.77,264.78 L512.65,265.21 L512.52,265.76 L512.40,266.31 L512.27,266.85 L512.15,267.40 L512.02,267.65 L511.90,267.67 L511.77,267.67 L511.65,267.75 L511.52,268.05 L511.40,268.46 L511.27,268.87 L511.15,269.28 L511.02,269.69 L510.90,269.92 L510.77,269.97 L510.65,269.97 L510.52,269.97 L510.40,269.97 L510.27,269.97 L510.15,269.97 L510.02,269.97 L509.90,269.97 L509.77,269.97 L509.65,269.97 L509.52,269.97 L509.40,269.97 L509.27,269.97 L509.15,269.97 L509.02,269.97 L508.90,269.97 L508.77,269.97 L508.65,269.97 L508.52,269.97 L508.40,269.97 L508.27,269.97 L508.15,269.97 L508.02,269.97 L507.90,269.97 L507.77,269.78 L507.65,269.42 L507.52,269.01 L507.40,268.60 L507.27,268.19 L507.15,267.81 L507.02,267.67 L506.90,267.67 L506.77,267.67 L506.65,267.30 L506.52,266.40 L506.40,265.30 L506.27,264.21 L506.15,263.12 L506.02,262.03 L505.90,261.57 L505.77,261.56 L505.65,261.56 L505.52,261.17 L505.40,259.93 L505.27,258.29 L505.15,256.65 L505.02,255.01 L504.90,253.37 L504.77,252.41 L504.65,251.84 L504.52,251.23 L504.40,250.61 L504.27,250.00 L504.15,249.38 L504.02,249.02 L503.90,248.94 L503.77,248.94 L503.65,248.94 L503.52,248.94 L503.40,248.94 L503.27,248.77 L503.15,244.84 L503.02,238.49 L502.90,232.14 L502.77,225.80 L502.65,219.45 L502.52,214.80 L502.02,212.65 L501.52,210.19 L501.02,207.91 L500.52,204.52 L500.02,202.22 L499.52,199.64 L499.02,192.60 L498.90,190.73 L498.77,190.73 L498.65,190.73 L498.52,190.69 L498.40,190.07 L498.27,188.71 L498.15,187.34 L498.02,185.98 L497.90,184.61 L497.77,183.51 L497.65,183.08 L497.52,183.08 L497.40,183.08 L497.27,183.08 L497.15,183.08 L497.02,183.08 L496.90,183.08 L496.77,183.08 L496.65,183.08 L496.52,182.91 L496.40,182.43 L496.27,181.89 L496.15,181.34 L496.02,180.80 L495.90,180.29 L495.77,180.03 L495.65,180.03 L495.52,180.03 L495.40,180.03 L495.27,180.03 L495.15,180.03 L495.02,179.93 L494.90,179.63 L494.77,179.22 L494.65,178.81 L494.52,178.41 L494.40,178.00 L494.27,177.74 L494.15,177.73 L494.02,177.73 L493.90,177.73 L493.77,177.73 L493.65,177.73 L493.52,177.59 L493.40,176.94 L493.27,175.85 L493.15,174.76 L493.02,173.66 L492.90,172.57 L492.77,171.69 L492.65,170.87 L492.52,169.64 L492.40,168.41 L492.27,167.18 L492.15,165.95 L492.02,165.00 L491.90,164.40 L491.77,163.72 L491.65,163.03 L491.52,162.35 L491.40,161.67 L491.27,161.12 L491.15,160.83 L491.02,160.63 L490.90,160.43 L490.77,160.22 L490.65,160.02 L490.52,159.84 L490.40,159.88 L490.27,160.20 L490.15,160.54 L490.02,160.88 L489.90,161.22 L489.77,161.53 L489.65,161.92 L489.52,162.62 L489.40,163.43 L489.27,164.25 L489.15,165.07 L489.02,165.84 L488.90,166.47 L488.77,167.11 L488.65,167.93 L488.52,168.75 L488.40,169.56 L488.27,170.37 L488.15,171.02 L488.02,171.60 L487.90,172.42 L487.77,173.24 L487.65,174.06 L487.52,174.88 L487.40,175.57 L487.27,176.31 L487.15,177.40 L487.02,178.49 L486.90,179.58 L486.77,180.68 L486.65,181.42 L486.52,181.56 L486.40,181.56 L486.27,181.59 L486.15,181.81 L486.02,182.22 L485.90,182.63 L485.77,183.04 L485.65,183.45 L485.52,183.76 L485.40,183.85 L485.27,183.85 L485.15,183.85 L485.02,183.85 L484.90,183.85 L484.77,183.85 L484.65,183.58 L484.52,182.90 L484.40,182.22 L484.27,181.54 L484.15,180.85 L484.02,180.28 L483.90,180.03 L483.77,180.03 L483.65,180.03 L483.52,180.03 L483.40,180.03 L483.27,180.03 L483.15,180.03 L483.02,180.03 L482.90,180.03 L482.77,179.80 L482.65,179.13 L482.52,178.31 L482.40,177.49 L482.27,176.67 L482.15,175.88 L482.02,175.25 L481.90,174.63 L481.77,173.82 L481.65,173.00 L481.52,172.18 L481.40,171.36 L481.27,170.64 L481.15,169.85 L481.02,168.69 L480.90,167.53 L480.77,166.37 L480.65,165.21 L480.52,164.45 L480.40,164.35 L480.27,164.35 L480.15,164.35 L480.02,164.35 L479.90,164.35 L479.77,164.39 L479.65,164.57 L479.52,164.91 L479.40,165.25 L479.27,165.59 L479.15,165.94 L479.02,166.19 L478.90,166.26 L478.77,166.26 L478.65,166.27 L478.52,166.45 L478.40,166.86 L478.27,167.27 L478.15,167.68 L478.02,168.09 L477.90,168.43 L477.77,169.23 L477.65,170.94 L477.52,172.72 L477.40,174.49 L477.27,176.27 L477.15,177.80 L477.02,178.50 L476.90,178.50 L476.77,178.50 L476.65,178.83 L476.52,179.77 L476.40,180.87 L476.27,181.96 L476.15,183.05 L476.02,184.07 L475.90,184.61 L475.77,184.61 L475.65,184.61 L475.52,184.87 L475.40,185.70 L475.27,186.79 L475.15,187.88 L475.02,188.98 L474.90,190.07 L474.77,190.73 L474.65,190.73 L474.52,190.73 L474.40,190.73 L474.27,190.73 L474.15,191.60 L474.02,192.04 L473.90,192.04 L473.77,192.04 L473.65,192.10 L473.52,192.33 L473.40,192.61 L473.27,192.88 L473.15,193.15 L473.02,193.43 L472.90,193.55 L472.77,193.56 L472.65,193.56 L472.52,193.56 L472.40,193.56 L472.27,193.56 L472.15,193.59 L472.02,193.98 L471.90,194.45 L471.77,194.93 L471.65,195.41 L471.52,195.89 L471.40,196.19 L471.27,196.24 L471.15,196.24 L471.02,196.24 L470.90,196.24 L470.77,196.24 L470.65,196.24 L470.52,196.24 L470.40,196.24 L470.27,196.24 L470.15,196.24 L470.02,196.24 L469.90,196.24 L469.77,196.24 L469.65,196.24 L469.52,196.24 L469.40,196.24 L469.27,196.24 L469.15,196.24 L469.02,195.82 L468.90,195.00 L468.77,194.11 L468.65,193.22 L468.52,192.34 L468.40,191.45 L468.27,191.27 L468.15,191.27 L468.02,191.27 L467.90,191.27 L467.77,191.27 L467.65,191.27 L467.52,191.47 L467.40,192.07 L467.27,192.75 L467.15,193.43 L467.02,194.11 L466.90,194.80 L466.77,195.06 L466.65,195.09 L466.52,195.09 L466.40,195.09 L466.27,195.09 L466.15,195.09 L466.02,195.14 L465.90,195.48 L465.77,195.89 L465.65,196.29 L465.52,196.70 L465.40,197.11 L465.27,197.35 L465.15,197.39 L465.02,197.39 L464.90,197.39 L464.77,197.39 L464.65,197.39 L464.52,197.39 L464.40,197.39 L464.27,197.39 L464.15,197.39 L464.02,197.39 L463.90,197.39 L463.77,197.39 L463.65,197.39 L463.52,197.39 L463.40,197.39 L463.27,197.63 L463.15,198.01 L463.02,198.42 L462.90,198.83 L462.77,199.24 L462.65,199.61 L462.52,199.68 L462.40,199.68 L462.27,199.68 L462.15,199.92 L462.02,200.42 L461.90,200.97 L461.77,201.51 L461.65,202.06 L461.52,202.60 L461.40,202.73 L461.27,202.74 L461.15,202.74 L461.02,202.74 L460.90,202.74 L460.77,202.74 L460.65,202.74 L460.52,202.74 L460.40,202.74 L460.27,202.74 L460.15,202.74 L460.02,202.74 L459.90,202.74 L459.77,202.74 L459.65,202.74 L459.52,202.69 L459.40,202.35 L459.27,201.94 L459.15,201.53 L459.02,201.12 L458.90,200.71 L458.77,200.48 L458.65,200.45 L458.52,200.45 L458.40,200.45 L458.27,200.45 L458.15,200.45 L458.02,200.45 L457.90,200.45 L457.77,200.45 L457.65,200.45 L457.52,200.45 L457.40,200.45 L457.27,200.45 L457.15,200.45 L457.02,200.45 L456.90,200.45 L456.77,200.45 L456.65,200.45 L456.52,200.45 L456.40,200.59 L456.27,200.85 L456.15,201.12 L456.02,201.40 L455.90,201.67 L455.77,201.92 L455.65,201.97 L455.52,201.97 L455.40,201.97 L455.27,201.97 L455.15,201.97 L455.02,201.97 L454.90,202.29 L454.77,203.08 L454.65,203.97 L454.52,204.86 L454.40,205.74 L454.27,206.63 L454.15,206.92 L454.02,206.94 L453.90,206.94 L453.77,206.94 L453.65,206.94 L453.52,206.94 L453.40,206.94 L453.27,206.94 L453.15,206.94 L453.02,206.94 L452.90,206.94 L452.77,206.94 L452.65,206.94 L452.52,206.94 L452.40,206.94 L452.27,206.92 L452.15,206.31 L452.02,205.56 L451.90,204.81 L451.77,204.06 L451.65,203.31 L451.52,202.82 L451.40,202.74 L451.27,202.74 L451.15,202.74 L451.02,202.55 L450.90,202.28 L450.77,202.01 L450.65,201.74 L450.52,201.46 L450.40,201.25 L450.27,201.21 L450.15,201.21 L450.02,201.21 L449.90,201.21 L449.77,201.21 L449.65,201.21 L449.52,201.21 L449.40,201.21 L449.27,201.21 L449.15,201.21 L449.02,201.21 L448.90,201.21 L448.77,200.87 L448.65,200.13 L448.52,199.31 L448.40,198.49 L448.27,197.67 L448.15,196.85 L448.02,196.64 L447.90,196.62 L447.77,196.62 L447.65,196.62 L447.52,196.62 L447.40,196.62 L447.27,196.56 L447.15,196.33 L447.02,196.05 L446.90,195.78 L446.77,195.51 L446.65,195.23 L446.52,195.02 L446.40,194.43 L446.27,193.75 L446.15,193.07 L446.02,192.38 L445.90,191.70 L445.77,191.33 L445.65,191.27 L445.52,191.27 L445.40,191.27 L445.27,190.29 L445.15,189.06 L445.02,187.84 L444.90,186.61 L444.77,185.38 L444.65,184.54 L444.52,184.39 L444.40,184.39 L444.27,184.39 L444.15,184.39 L444.02,184.39 L443.90,184.39 L443.77,185.39 L443.65,186.95 L443.52,188.59 L443.40,190.23 L443.27,191.87 L443.15,193.29 L443.02,193.71 L442.90,193.96 L442.77,194.23 L442.65,194.51 L442.52,194.78 L442.40,195.04 L442.27,195.67 L442.15,196.91 L442.02,198.28 L441.90,199.64 L441.77,201.01 L441.65,202.37 L441.52,202.72 L441.40,202.74 L441.27,202.74 L441.15,202.74 L441.02,202.74 L440.90,202.74 L440.77,202.74 L440.65,202.74 L440.52,202.74 L440.40,202.74 L440.27,202.74 L440.15,202.74 L440.02,202.74 L439.90,202.74 L439.77,202.74 L439.65,202.74 L439.52,202.74 L439.40,202.74 L439.27,202.74 L439.15,202.74 L439.02,202.74 L438.90,202.74 L438.77,202.74 L438.65,202.74 L438.52,202.74 L438.40,202.74 L438.27,202.74 L438.15,202.74 L438.02,202.74 L437.90,202.74 L437.77,202.74 L437.65,202.28 L437.52,201.62 L437.40,200.94 L437.27,200.26 L437.15,199.58 L437.02,199.02 L436.90,198.92 L436.77,198.92 L436.65,198.92 L436.52,198.92 L436.40,198.92 L436.27,198.92 L436.15,198.92 L436.02,198.92 L435.90,198.92 L435.77,199.18 L435.65,199.74 L435.52,200.36 L435.40,200.97 L435.27,201.58 L435.15,202.20 L435.02,202.35 L434.90,202.36 L434.77,202.36 L434.65,202.36 L434.52,202.36 L434.40,202.36 L434.27,202.29 L434.15,202.05 L434.02,201.78 L433.90,201.51 L433.77,201.23 L433.65,200.96 L433.52,200.84 L433.40,200.83 L433.27,200.83 L433.15,200.83 L433.02,200.83 L432.90,200.83 L432.77,200.83 L432.65,200.83 L432.52,200.83 L432.40,200.84 L432.27,201.39 L432.15,202.07 L432.02,202.75 L431.90,203.44 L431.77,204.12 L431.65,204.57 L431.52,204.65 L431.40,204.65 L431.27,204.65 L431.15,204.65 L431.02,204.65 L430.90,204.65 L430.77,204.65 L430.65,204.65 L430.52,204.65 L430.40,204.37 L430.27,203.92 L430.15,203.44 L430.02,202.96 L429.90,202.49 L429.77,202.06 L429.65,201.81 L429.52,201.49 L429.40,201.15 L429.27,200.81 L429.15,200.47 L429.02,200.13 L428.90,200.06 L428.77,200.06 L428.65,200.06 L428.52,200.06 L428.40,200.06 L428.27,200.06 L428.15,200.06 L428.02,200.06 L427.90,200.06 L427.77,200.06 L427.65,200.06 L427.52,200.06 L427.40,199.26 L427.27,198.71 L427.15,198.17 L427.02,197.71 L426.90,197.61 L426.77,197.61 L426.65,197.61 L426.52,197.61 L426.40,197.61 L426.27,197.58 L426.15,197.25 L426.02,196.21 L425.90,195.17 L425.77,194.14 L425.65,193.10 L425.52,192.17 L425.40,191.80 L425.27,191.80 L425.15,191.80 L425.02,191.80 L424.90,191.80 L424.77,191.80 L424.65,191.67 L424.52,190.98 L424.40,190.24 L424.27,189.50 L424.15,188.77 L424.02,188.08 L423.90,187.67 L423.77,187.67 L423.65,187.67 L423.52,187.63 L423.40,187.42 L423.27,187.14 L423.15,186.87 L423.02,186.60 L422.90,186.33 L422.77,186.15 L422.65,186.15 L422.52,186.15 L422.40,186.15 L422.27,186.15 L422.15,186.15 L422.02,186.15 L421.90,186.15 L421.77,186.15 L421.65,186.15 L421.52,186.15 L421.40,186.15 L421.27,186.10 L421.15,185.82 L421.02,185.27 L420.90,184.73 L420.77,184.18 L420.65,183.64 L420.52,183.11 L420.40,182.56 L420.27,181.47 L420.15,180.38 L420.02,179.29 L419.90,178.19 L419.77,177.24 L419.65,176.87 L419.52,176.60 L419.40,176.33 L419.27,176.05 L419.15,175.78 L419.02,175.54 L418.90,175.44 L418.77,175.44 L418.65,175.44 L418.52,175.44 L418.40,175.44 L418.27,175.44 L418.15,175.47 L418.02,175.60 L417.90,175.73 L417.77,175.87 L417.65,176.01 L417.52,176.13 L417.40,176.21 L417.27,176.21 L417.15,176.21 L417.02,176.21 L416.90,176.21 L416.77,176.21 L416.65,176.21 L416.52,176.21 L416.40,176.21 L416.27,176.19 L416.15,176.09 L416.02,175.96 L415.90,175.82 L415.77,175.68 L415.65,175.55 L415.52,175.44 L415.40,175.44 L415.27,175.44 L415.15,175.44 L415.02,175.44 L414.90,175.44 L414.77,175.45 L414.65,175.53 L414.52,175.66 L414.40,175.80 L414.27,175.93 L414.15,176.07 L414.02,176.19 L413.90,176.21 L413.77,176.21 L413.65,176.21 L413.52,176.21 L413.40,176.21 L413.27,176.21 L413.15,176.21 L413.02,176.21 L412.90,176.20 L412.77,176.12 L412.65,175.85 L412.52,175.57 L412.40,175.30 L412.27,175.03 L412.15,174.78 L412.02,174.68 L411.90,174.68 L411.77,174.68 L411.65,174.68 L411.52,174.68 L411.40,174.68 L411.27,174.68 L411.15,174.68 L411.02,174.68 L410.90,174.68 L410.77,174.68 L410.65,174.68 L410.52,174.68 L410.40,174.68 L410.27,174.68 L410.15,174.68 L410.02,174.68 L409.90,174.68 L409.77,174.67 L409.65,174.62 L409.52,174.55 L409.40,174.48 L409.27,174.41 L409.15,174.35 L409.02,174.30 L408.90,174.30 L408.77,174.30 L408.65,174.30 L408.52,174.30 L408.40,174.30 L408.27,174.30 L408.15,174.30 L408.02,174.30 L407.90,174.30 L407.77,174.30 L407.65,174.30 L407.52,174.30 L407.40,174.30 L407.27,174.30 L407.15,174.31 L407.02,174.39 L406.90,174.59 L406.77,174.80 L406.65,175.00 L406.52,175.21 L406.40,175.38 L406.27,175.44 L406.15,175.44 L406.02,175.44 L405.90,175.44 L405.77,175.44 L405.65,175.44 L405.52,175.44 L405.40,175.44 L405.27,175.44 L405.15,175.35 L405.02,174.89 L404.90,174.41 L404.77,173.93 L404.65,173.46 L404.52,173.01 L404.40,172.73 L404.27,172.55 L404.15,172.35 L404.02,172.14 L403.90,171.94 L403.77,171.74 L403.65,171.62 L403.52,171.62 L403.40,171.62 L403.27,171.62 L403.15,171.62 L403.02,171.62 L402.90,171.62 L402.77,171.62 L402.65,171.62 L402.52,171.62 L402.40,171.62 L402.27,171.62 L402.15,171.62 L402.02,171.62 L401.90,171.62 L401.77,171.70 L401.65,172.23 L401.52,173.18 L401.40,174.14 L401.27,175.09 L401.15,176.05 L401.02,176.86 L400.90,177.11 L400.77,177.39 L400.65,177.66 L400.52,177.93 L400.40,178.20 L400.27,178.44 L400.15,178.50 L400.02,178.50 L399.90,178.50 L399.77,178.50 L399.65,178.50 L399.52,178.50 L399.40,178.50 L399.27,178.50 L399.15,178.50 L399.02,178.50 L398.90,178.50 L398.77,178.50 L398.65,178.50 L398.52,178.50 L398.40,178.50 L398.27,178.50 L398.15,178.50 L398.02,178.50 L397.90,178.50 L397.77,178.50 L397.65,178.50 L397.52,178.50 L397.40,178.50 L397.27,178.50 L397.15,178.54 L397.02,178.76 L396.90,179.03 L396.77,179.30 L396.65,179.58 L396.52,179.84 L396.40,180.03 L396.27,180.03 L396.15,180.03 L396.02,180.08 L395.90,180.34 L395.77,180.75 L395.65,181.16 L395.52,181.57 L395.40,181.98 L395.27,182.31 L395.15,182.32 L395.02,182.32 L394.90,182.32 L394.77,182.32 L394.65,182.32 L394.52,182.32 L394.40,182.32 L394.27,182.32 L394.15,182.32 L394.02,182.32 L393.90,182.32 L393.77,182.32 L393.65,182.32 L393.52,182.32 L393.40,182.32 L393.27,182.32 L393.15,182.32 L393.02,182.32 L392.90,182.32 L392.77,182.32 L392.65,182.32 L392.52,182.32 L392.40,182.32 L392.27,182.32 L392.15,182.30 L392.02,182.16 L391.90,182.03 L391.77,181.89 L391.65,181.75 L391.52,181.63 L391.40,181.56 L391.27,181.56 L391.15,181.56 L391.02,181.56 L390.90,181.56 L390.77,181.56 L390.65,181.56 L390.52,181.56 L390.40,181.56 L390.27,181.56 L390.15,181.56 L390.02,181.56 L389.90,181.59 L389.77,183.16 L389.65,183.16 L389.52,183.16 L389.40,183.16 L389.27,183.16 L389.15,183.12 L389.02,182.98 L388.90,182.85 L388.77,182.71 L388.65,182.57 L388.52,182.44 L388.40,182.40 L388.27,182.40 L388.15,182.40 L388.02,182.40 L387.90,182.40 L387.77,182.40 L387.65,182.43 L387.52,182.70 L387.40,182.97 L387.27,183.24 L387.15,183.52 L387.02,183.79 L386.90,183.93 L386.77,183.93 L386.65,183.93 L386.52,183.93 L386.40,184.18 L386.27,184.45 L386.15,184.73 L386.02,185.00 L385.90,185.27 L385.77,185.46 L385.65,185.46 L385.52,185.46 L385.40,185.46 L385.27,185.46 L385.15,185.46 L385.02,185.46 L384.90,185.22 L384.77,184.88 L384.65,184.54 L384.52,184.20 L384.40,183.86 L384.27,183.55 L384.15,183.43 L384.02,183.22 L383.90,183.02 L383.77,182.81 L383.65,182.61 L383.52,182.41 L383.40,182.40 L383.27,182.40 L383.15,182.40 L383.02,182.40 L382.90,182.40 L382.77,182.40 L382.65,182.40 L382.52,182.40 L382.40,182.40 L382.27,182.48 L382.15,182.75 L382.02,183.02 L381.90,183.30 L381.77,183.57 L381.65,183.84 L381.52,183.93 L381.40,183.93 L381.27,183.93 L381.15,183.94 L381.02,184.08 L380.90,184.22 L380.77,184.35 L380.65,184.49 L380.52,184.63 L380.40,184.69 L380.27,184.69 L380.15,184.69 L380.02,184.69 L379.90,184.69 L379.77,184.69 L379.65,184.69 L379.52,184.69 L379.40,184.69 L379.27,184.69 L379.15,184.69 L379.02,184.69 L378.90,184.69 L378.77,184.69 L378.65,184.69 L378.52,184.69 L378.40,184.69 L378.27,184.69 L378.15,184.69 L378.02,184.74 L377.90,184.81 L377.77,184.87 L377.65,184.94 L377.52,185.01 L377.40,185.08 L377.27,185.08 L377.15,185.08 L377.02,185.08 L376.90,185.30 L376.77,185.78 L376.65,186.25 L376.52,186.73 L376.40,187.21 L376.27,187.69 L376.15,187.85 L376.02,188.12 L375.90,188.39 L375.77,188.67 L375.65,188.94 L375.52,189.21 L375.40,189.28 L375.27,189.28 L375.15,189.28 L375.02,189.28 L374.90,189.28 L374.77,189.28 L374.65,189.28 L374.52,189.28 L374.40,189.28 L374.27,189.28 L374.15,189.28 L374.02,189.28 L373.90,189.28 L373.77,188.94 L373.65,188.60 L373.52,188.25 L373.40,187.91 L373.27,187.57 L373.15,187.37 L373.02,187.01 L372.90,186.60 L372.77,186.19 L372.65,185.78 L372.52,185.37 L372.40,185.08 L372.27,185.08 L372.15,185.08 L372.02,185.08 L371.90,184.98 L371.77,184.84 L371.65,184.70 L371.52,184.57 L371.40,184.43 L371.27,184.31 L371.15,184.31 L371.02,184.31 L370.90,184.31 L370.77,184.31 L370.65,184.31 L370.52,184.31 L370.40,184.34 L370.27,184.41 L370.15,184.48 L370.02,184.55 L369.90,184.62 L369.77,184.68 L369.65,184.69 L369.52,184.69 L369.40,184.69 L369.27,184.69 L369.15,184.69 L369.02,184.69 L368.90,184.74 L368.77,184.95 L368.65,185.15 L368.52,185.36 L368.40,185.56 L368.27,185.77 L368.15,185.84 L368.02,185.84 L367.90,185.84 L367.77,185.86 L367.65,186.13 L367.52,186.41 L367.40,186.68 L367.27,186.95 L367.15,187.23 L367.02,187.37 L366.90,187.37 L366.77,187.37 L366.65,187.37 L366.52,187.61 L366.40,187.89 L366.27,188.16 L366.15,188.43 L366.02,188.71 L365.90,188.90 L365.77,188.90 L365.65,188.90 L365.52,188.90 L365.40,189.19 L365.27,189.60 L365.15,190.01 L365.02,190.42 L364.90,190.83 L364.77,191.19 L364.65,191.36 L364.52,191.63 L364.40,191.90 L364.27,192.18 L364.15,192.45 L364.02,192.72 L363.90,192.72 L363.77,192.72 L363.65,192.72 L363.52,192.87 L363.40,193.21 L363.27,193.55 L363.15,193.89 L363.02,194.23 L362.90,194.58 L362.77,194.63 L362.65,194.63 L362.52,194.63 L362.40,194.63 L362.27,194.63 L362.15,194.63 L362.02,194.63 L361.90,194.63 L361.77,194.63 L361.65,194.63 L361.52,194.63 L361.40,194.63 L361.27,194.61 L361.15,194.41 L361.02,194.20 L360.90,194.00 L360.77,193.80 L360.65,193.59 L360.52,193.49 L360.40,192.96 L360.27,192.41 L360.15,191.86 L360.02,191.32 L359.90,190.77 L359.77,190.43 L359.65,190.43 L359.52,190.43 L359.40,190.43 L359.27,189.88 L359.15,189.20 L359.02,188.52 L358.90,187.84 L358.77,187.15 L358.65,186.60 L358.52,186.28 L358.40,185.80 L358.27,185.32 L358.15,184.85 L358.02,184.37 L357.90,183.93 L357.77,183.93 L357.65,183.93 L357.52,183.93 L357.40,183.93 L357.27,183.93 L357.15,183.93 L357.02,183.99 L356.90,184.13 L356.77,184.26 L356.65,184.40 L356.52,184.54 L356.40,184.67 L356.27,185.08 L356.15,186.24 L356.02,187.40 L355.90,188.56 L355.77,189.72 L355.65,190.88 L355.52,191.28 L355.40,191.69 L355.27,192.10 L355.15,192.51 L355.02,192.92 L354.90,193.33 L354.77,193.49 L354.65,193.49 L354.52,193.49 L354.40,193.49 L354.27,193.49 L354.15,193.49 L354.02,193.49 L353.90,193.49 L353.77,193.49 L353.65,193.49 L353.52,193.49 L353.40,193.49 L353.27,193.49 L353.15,193.49 L353.02,193.49 L352.90,193.49 L352.77,193.49 L352.65,193.49 L352.52,193.49 L352.40,193.49 L352.27,193.49 L352.15,193.49 L352.02,193.49 L351.90,193.49 L351.77,193.49 L351.65,193.49 L351.52,193.49 L351.40,193.49 L351.27,193.01 L351.15,192.19 L351.02,191.38 L350.90,190.56 L350.77,189.74 L350.65,188.92 L350.52,188.27 L350.40,186.91 L350.27,185.54 L350.15,184.18 L350.02,182.81 L349.90,181.44 L349.77,180.99 L349.65,180.24 L349.52,179.49 L349.40,178.74 L349.27,177.99 L349.15,177.24 L349.02,177.05 L348.90,177.05 L348.77,177.05 L348.65,177.05 L348.52,177.05 L348.40,177.05 L348.27,177.03 L348.15,176.90 L348.02,176.76 L347.90,176.62 L347.77,176.49 L347.65,176.35 L347.52,176.28 L347.40,176.28 L347.27,176.28 L347.15,176.28 L347.02,176.28 L346.90,176.28 L346.77,176.28 L346.65,176.28 L346.52,176.28 L346.40,176.28 L346.27,176.68 L346.15,177.15 L346.02,177.63 L345.90,178.11 L345.77,178.59 L345.65,178.96 L345.52,179.10 L345.40,179.31 L345.27,179.51 L345.15,179.72 L345.02,179.92 L344.90,180.11 L344.77,180.11 L344.65,180.11 L344.52,180.11 L344.40,180.11 L344.27,180.11 L344.15,180.11 L344.02,180.11 L343.90,180.11 L343.77,180.11 L343.65,179.91 L343.52,179.43 L343.40,178.95 L343.27,178.47 L343.15,178.00 L343.02,177.52 L342.90,177.21 L342.77,176.46 L342.65,175.71 L342.52,174.95 L342.40,174.20 L342.27,173.45 L342.15,173.23 L342.02,173.23 L341.90,173.23 L341.77,173.25 L341.65,173.46 L341.52,173.66 L341.40,173.86 L341.27,174.07 L341.15,174.27 L341.02,174.37 L340.90,174.37 L340.77,174.37 L340.65,174.37 L340.52,175.28 L340.40,176.23 L340.27,177.19 L340.15,178.15 L340.02,179.10 L339.90,179.72 L339.77,179.72 L339.65,179.72 L339.52,179.72 L339.40,180.30 L339.27,181.06 L339.15,181.81 L339.02,182.56 L338.90,183.31 L338.77,183.93 L338.65,183.93 L338.52,183.93 L338.40,183.93 L338.27,183.27 L338.15,183.43 L338.02,184.03 L337.90,184.92 L337.77,185.81 L337.65,186.70 L337.52,187.58 L337.40,188.16 L337.27,188.24 L337.15,188.24 L337.02,188.24 L336.90,188.24 L336.77,188.24 L336.65,188.24 L336.52,188.24 L336.40,188.24 L336.27,188.25 L336.15,188.35 L336.02,188.56 L335.90,188.76 L335.77,188.97 L335.65,189.17 L335.52,189.33 L335.40,189.38 L335.27,189.38 L335.15,189.38 L335.02,189.38 L334.90,189.38 L334.77,189.38 L334.65,189.69 L334.52,190.48 L334.40,191.30 L334.27,192.12 L334.15,192.94 L334.02,193.65 L333.90,193.97 L333.77,193.97 L333.65,193.97 L333.52,193.97 L333.40,193.97 L333.27,193.97 L333.15,194.09 L333.02,194.42 L332.90,194.83 L332.77,195.24 L332.65,195.65 L332.52,196.05 L332.40,196.26 L332.27,196.26 L332.15,196.26 L332.02,196.26 L331.90,196.26 L331.77,196.26 L331.65,196.26 L331.52,196.26 L331.40,196.26 L331.27,196.26 L331.15,196.26 L331.02,196.26 L330.90,196.26 L330.77,196.26 L330.65,196.26 L330.52,196.26 L330.40,196.26 L330.27,196.26 L330.15,196.28 L330.02,196.40 L329.90,196.60 L329.77,196.81 L329.65,197.01 L329.52,197.22 L329.40,197.37 L329.27,197.41 L329.15,197.41 L329.02,197.41 L328.90,197.41 L328.77,197.41 L328.65,197.41 L328.52,197.41 L328.40,197.41 L328.27,197.41 L328.15,197.41 L328.02,197.41 L327.90,197.41 L327.77,197.41 L327.65,197.41 L327.52,197.41 L327.40,197.41 L327.27,197.41 L327.15,197.41 L327.02,197.41 L326.90,197.41 L326.77,197.41 L326.65,197.27 L326.52,196.88 L326.40,196.40 L326.27,195.92 L326.15,195.44 L326.02,194.99 L325.90,194.74 L325.77,194.74 L325.65,194.74 L325.52,194.65 L325.40,194.35 L325.27,193.94 L325.15,193.53 L325.02,193.12 L324.90,192.71 L324.77,192.46 L324.65,192.44 L324.52,192.44 L324.40,192.44 L324.27,192.44 L324.15,192.44 L324.02,192.44 L323.90,192.44 L323.77,192.44 L323.65,192.44 L323.52,192.44 L323.40,192.44 L323.27,192.44 L323.15,192.44 L323.02,192.44 L322.90,192.44 L322.77,192.44 L322.65,192.44 L322.52,192.44 L322.40,192.44 L322.27,192.44 L322.15,192.45 L322.02,192.79 L321.90,193.61 L321.77,194.43 L321.65,195.25 L321.52,196.06 L321.40,196.75 L321.27,197.03 L321.15,197.03 L321.02,197.03 L320.90,197.42 L320.77,198.48 L320.65,199.64 L320.52,200.80 L320.40,201.96 L320.27,203.00 L320.15,203.53 L320.02,203.53 L319.90,203.53 L319.77,203.53 L319.65,203.53 L319.52,203.53 L319.40,203.53 L319.27,203.53 L319.15,203.53 L319.02,203.53 L318.90,203.53 L318.77,203.53 L318.65,203.53 L318.52,203.53 L318.40,203.53 L318.27,203.53 L318.15,203.53 L318.02,203.53 L317.90,203.53 L317.77,203.53 L317.65,203.53 L317.52,203.53 L317.40,203.53 L317.27,203.53 L317.15,203.51 L317.02,203.39 L316.90,203.19 L316.77,202.98 L316.65,202.78 L316.52,202.57 L316.40,202.37 L316.27,201.93 L316.15,201.11 L316.02,200.29 L315.90,199.47 L315.77,198.65 L315.65,198.01 L315.52,197.79 L315.40,197.79 L315.27,197.79 L315.15,197.58 L315.02,197.04 L314.90,196.50 L314.77,195.95 L314.65,195.40 L314.52,194.94 L314.40,194.74 L314.27,194.74 L314.15,194.74 L314.02,194.74 L313.90,194.74 L313.77,194.74 L313.65,194.98 L313.52,195.67 L313.40,196.49 L313.27,197.31 L313.15,198.13 L313.02,198.90 L312.90,199.32 L312.77,199.32 L312.65,199.32 L312.52,199.32 L312.40,199.32 L312.27,199.32 L312.15,199.32 L312.02,199.32 L311.90,199.32 L311.77,199.32 L311.65,199.32 L311.52,199.32 L311.40,199.50 L311.27,200.19 L311.15,201.28 L311.02,202.38 L310.90,203.47 L310.77,204.56 L310.65,205.31 L310.52,205.44 L310.40,205.44 L310.27,205.44 L310.15,205.44 L310.02,205.44 L309.90,205.44 L309.77,205.44 L309.65,205.44 L309.52,205.44 L309.40,205.44 L309.27,205.44 L309.15,205.44 L309.02,205.44 L308.90,205.44 L308.77,205.44 L308.65,205.12 L308.52,204.30 L308.40,203.48 L308.27,202.66 L308.15,201.84 L308.02,201.15 L307.90,200.85 L307.77,200.85 L307.65,200.85 L307.52,200.85 L307.40,200.85 L307.27,200.85 L307.15,200.85 L307.02,200.85 L306.90,200.85 L306.77,200.85 L306.65,200.85 L306.52,200.85 L306.40,200.85 L306.27,200.85 L306.15,200.85 L306.02,200.85 L305.90,200.85 L305.77,200.85 L305.65,200.78 L305.52,200.54 L305.40,200.20 L305.27,199.85 L305.15,199.51 L305.02,199.17 L304.90,198.96 L304.77,198.94 L304.65,198.94 L304.52,198.94 L304.40,198.94 L304.27,198.94 L304.15,198.94 L304.02,198.94 L303.90,198.94 L303.77,198.94 L303.65,198.94 L303.52,198.94 L303.40,198.94 L303.27,198.94 L303.15,198.94 L303.02,198.98 L302.90,199.40 L302.77,200.29 L302.65,201.17 L302.52,202.06 L302.40,202.95 L302.27,203.65 L302.15,203.91 L302.02,203.91 L301.90,203.91 L301.77,203.91 L301.65,203.91 L301.52,203.91 L301.40,203.91 L301.27,203.91 L301.15,203.91 L301.02,203.91 L300.90,203.91 L300.77,203.91 L300.65,203.53 L300.52,202.47 L300.40,201.25 L300.27,200.02 L300.15,198.79 L300.02,197.64 L299.90,197.03 L299.77,197.03 L299.65,197.03 L299.52,197.03 L299.40,197.03 L299.27,197.03 L299.15,197.03 L299.02,197.03 L298.90,197.03 L298.77,197.03 L298.65,197.03 L298.52,197.03 L298.40,197.03 L298.27,197.03 L298.15,197.03 L298.02,197.03 L297.90,197.03 L297.77,197.03 L297.65,197.15 L297.52,197.70 L297.40,198.66 L297.27,199.61 L297.15,200.57 L297.02,201.52 L296.90,202.31 L296.77,203.18 L296.65,204.55 L296.52,205.91 L296.40,207.28 L296.27,208.64 L296.15,209.69 L296.02,210.03 L295.90,210.03 L295.77,210.03 L295.65,210.03 L295.52,210.03 L295.40,210.03 L295.27,210.03 L295.15,210.03 L295.02,210.03 L294.90,210.03 L294.77,210.03 L294.65,210.03 L294.52,210.03 L294.40,210.03 L294.27,210.03 L294.15,210.03 L294.02,210.03 L293.90,210.03 L293.77,210.03 L293.65,210.03 L293.52,210.03 L293.40,210.03 L293.27,210.03 L293.15,210.03 L293.02,210.03 L292.90,210.03 L292.77,210.03 L292.65,210.03 L292.52,210.03 L292.40,210.03 L292.27,210.03 L292.15,210.03 L292.02,210.03 L291.90,209.90 L291.77,209.40 L291.65,208.65 L291.52,207.90 L291.40,207.15 L291.27,206.40 L291.15,205.90 L291.02,205.82 L290.90,205.82 L290.77,205.82 L290.65,205.82 L290.52,205.82 L290.40,205.82 L289.90,205.02 L289.40,204.61 L288.90,203.85 L288.40,203.61 L287.90,204.25 L287.40,203.01 L286.90,203.94 L286.40,203.72 L285.90,203.22 L285.40,203.14 L284.90,201.61 L284.40,201.77 L283.90,201.77 L283.40,203.23 L282.90,202.95 L282.40,203.40 L281.90,206.68 L281.40,210.78 L280.90,211.85 L280.40,214.13 L279.90,220.82 L279.40,225.02 L278.90,225.45 L278.40,225.43 L277.90,225.44 L277.40,224.71 L276.90,222.61 L276.40,220.47 L275.90,217.25 L275.40,213.74 L274.90,211.77 L274.40,210.65 L273.90,210.08 L273.40,210.19 L272.90,210.21 L272.40,210.16 L271.90,211.73 L271.40,212.73 L270.90,215.14 L270.40,218.80 L269.90,221.21 L269.40,223.28 L268.90,226.72 L268.40,227.88 L267.90,229.86 L267.40,230.04 L266.90,231.65 L266.40,231.75 L265.90,232.91 L265.40,233.32 L264.90,233.97 L264.40,233.72 L263.90,233.46 L263.40,234.87 L262.90,235.18 L262.40,235.69 L261.90,235.12 L261.40,235.36 L260.90,236.15 L260.40,235.00 L259.90,234.38 L259.40,232.08 L258.90,228.44 L258.40,227.39 L257.90,225.91 L257.40,225.28 L256.90,223.98 L256.40,223.63 L255.90,222.66 L255.40,221.94 L254.90,221.58 L254.40,221.38 L253.90,221.60 L253.40,221.18 L252.90,221.54 L252.40,222.24 L251.90,222.33 L251.40,223.80 L250.90,224.85 L250.40,225.95 L249.90,226.63 L249.40,226.81 L248.90,227.39 L248.40,228.11 L247.90,227.78 L247.40,226.96 L246.90,227.15 L246.40,226.54 L245.90,226.72 L245.40,225.69 L244.90,225.64 L244.40,224.32 L243.90,222.96 L243.40,222.14 L242.90,221.86 L242.40,221.45 L241.90,222.46 L241.40,222.84 L240.90,223.11 L240.40,223.78 L239.90,224.47 L239.40,224.52 L238.90,226.41 L238.40,227.02 L237.90,226.92 L237.40,226.24 L236.90,227.20 L236.40,226.26 L235.90,226.71 L235.40,226.91 L234.90,227.78 L234.40,227.98 L233.90,227.25 L233.40,226.88 L232.90,225.74 L232.40,225.93 L231.90,224.46 L231.40,223.06 L230.90,223.29 L230.40,222.83 L229.90,221.54 L229.40,221.67 L228.90,221.63 L228.40,221.25 L227.90,222.23 L227.40,221.43 L226.90,221.40 L226.40,222.17 L225.90,224.05 L225.40,223.75 L224.90,225.02 L224.40,226.24 L223.90,224.61 L223.40,223.56 L222.90,223.28 L222.40,222.29 L221.90,222.05 L221.40,222.24 L220.90,221.53 L220.40,221.36 L219.90,220.81 L219.40,219.69 L218.90,220.34 L218.40,218.89 L217.90,219.23 L217.40,218.47 L216.90,217.18 L216.40,216.20 L215.90,217.39 L215.40,216.48 L214.90,217.16 L214.40,216.31 L213.90,215.88 L213.40,216.78 L212.90,216.35 L212.40,215.40 L211.90,215.14 L211.40,214.61 L210.90,214.98 L210.40,213.80 L209.90,213.49 L209.40,212.32 L208.90,212.95 L208.40,211.44 L207.90,211.64 L207.40,210.36 L206.90,210.94 L206.40,210.07 L205.90,210.77 L205.40,211.38 L204.90,211.49 L204.40,211.29 L203.90,212.21 L203.40,213.34 L202.90,213.25 L202.40,214.67 L201.90,214.24 L201.40,214.52 L200.90,215.58 L200.40,215.59 L199.90,215.49 L199.40,216.12 L198.90,216.39 L198.40,216.66 L197.90,216.23 L197.40,216.66 L196.90,217.81 L196.40,218.21 L195.90,217.17 L195.40,217.93 L194.90,218.36 L194.40,217.50 L193.90,218.76 L193.40,218.12 L192.90,217.10 L192.40,216.30 L191.90,216.13 L191.40,214.90 L190.90,215.49 L190.40,215.95 L189.90,216.58 L189.40,216.88 L188.90,218.29 L188.40,218.16 L187.90,218.68 L187.40,219.32 L186.90,219.59 L186.40,220.99 L185.90,220.10 L185.40,221.26 L184.90,220.34 L184.40,220.46 L183.90,220.13 L183.40,219.87 L182.90,220.34 L182.40,219.66 L181.90,219.48 L181.40,219.49 L180.90,220.45 L180.40,220.36 L179.90,220.17 L179.40,221.24 L178.90,222.13 L178.40,222.39 L177.90,223.09 L177.40,222.52 L176.90,223.12 L176.40,224.61 L175.90,225.22 L175.40,224.87 L174.90,226.15 L174.40,226.91 L173.90,226.34 L173.40,225.90 L172.90,226.19 L172.40,225.06 L171.90,225.63 L171.40,225.38 L170.90,224.31 L170.40,223.87 L169.90,223.69 L169.40,222.28 L168.90,222.76 L168.40,221.73 L167.90,220.86 L167.40,220.34 L166.90,220.88 L166.40,220.96 L165.90,221.50 L165.40,220.68 L164.90,221.78 L164.40,221.19 L163.90,221.96 L163.40,220.93 L162.90,220.82 L162.40,221.30 L161.90,221.16 L161.40,222.22 L160.90,222.13 L160.40,222.27 L159.90,222.90 L159.40,221.93 L158.90,220.78 L158.40,220.63 L157.90,219.83 L157.40,218.59 L156.90,218.92 L156.40,217.34 L155.90,216.92 L155.40,216.60 L154.90,216.84 L154.40,218.00 L153.90,218.75 L153.40,217.95 L152.90,219.15 L152.40,219.33 L151.90,219.87 L151.40,219.45 L150.90,219.24 L150.40,220.42 L149.90,220.87 L149.40,220.66 L148.90,220.54 L148.40,219.98 L147.90,220.15 L147.40,219.23 L146.90,218.85 L146.40,217.98 L145.90,216.96 L145.40,216.87 L144.90,218.05 L144.40,221.07 L143.90,224.22 L143.40,226.48 L142.90,226.18 L142.40,226.71 L141.90,226.52 L141.40,226.86 L140.90,226.85 L140.40,226.68 L139.90,226.70 L139.40,227.80 L138.90,227.47 L138.40,228.30 L137.90,227.72 L137.40,227.49 L136.90,226.94 L136.40,227.29 L135.90,227.29 L135.40,226.18 L134.90,226.82 L134.40,225.45 L133.90,223.95 L133.40,222.47 L132.90,221.67 L132.40,220.84 L131.90,220.71 L131.40,221.22 L130.90,221.15 L130.40,220.97 L129.90,221.10 L129.40,220.99 L128.90,220.40 L128.40,220.29 L127.90,220.33 L127.40,220.33 L126.90,220.44 L126.40,220.74 L125.90,221.08 L125.40,221.14 L124.90,221.00 L124.40,221.36 L123.90,220.39 L123.40,219.97 L122.90,218.58 L122.40,216.62 L121.90,214.54 L121.40,213.32 L120.90,212.56 L120.40,212.60 L119.90,213.35 L119.40,213.59 L118.90,214.83 L118.40,214.62 L117.90,215.47 L117.40,215.33 L116.90,216.07 L116.40,216.26 L115.90,216.06 L115.40,217.42 L114.90,218.63 L114.40,217.92 L113.90,217.78 L113.40,216.43 L112.90,214.90 L112.40,215.00 L111.90,214.51 L111.40,214.95 L110.90,216.18 L110.40,216.10 L109.90,216.97 L109.40,217.53 L108.90,217.62 L108.40,216.96 L107.90,216.80 L107.40,216.14 L106.90,216.37 L106.40,215.32 L105.90,215.26 L105.40,216.54 L104.90,217.88 L104.40,218.69 L103.90,219.22 L103.40,218.97 L102.90,218.88 L102.40,218.39 L101.90,218.00 L101.40,218.40 L100.90,218.99 L100.40,219.20 L99.90,219.07 L99.40,218.47 L98.90,218.20 L98.40,217.68 L97.90,217.64 L97.40,218.16 L96.90,218.68 L96.40,219.50 L95.90,220.35 L95.40,221.78 L94.90,221.89 L94.40,222.52 L93.90,221.78 L93.40,221.25 L92.90,221.32 L92.40,221.06 L91.90,220.75 L91.40,220.16 L90.90,220.51 L90.40,220.35 L89.90,220.20 L89.40,219.90 L88.90,218.70 L88.40,217.92 L87.90,217.21 L87.40,215.52 L86.90,214.92 L86.40,214.08 L85.90,213.27 L85.40,213.51 L84.90,214.08 L84.40,215.16 L83.90,216.35 L83.40,217.17 L82.90,216.86 L82.40,216.96 L81.90,216.91 L81.40,217.24 L80.90,216.64 L80.40,217.26 L79.90,218.75 L79.40,220.94 L78.90,221.66 L78.40,221.84 L77.90,221.79 L77.40,221.77 L76.90,217.35 L76.40,213.07 L75.90,212.89 L75.40,212.39 L74.90,212.36 L74.40,211.83 L73.90,209.60 L73.40,205.32 L72.90,203.46 L72.40,201.38 L71.90,200.62 L71.40,200.89 L70.90,201.93 L70.40,203.14 L69.90,202.42 L69.40,203.24 L68.90,203.46 L68.40,204.97 L67.90,204.71 L67.40,204.66 L66.90,204.77 L66.40,205.18 L65.90,205.32 L65.40,206.49 L64.90,206.53 L64.40,207.47 L63.90,207.89 L63.40,207.63 L62.90,209.16 L62.40,210.02 L61.90,210.64 L61.40,211.44 L60.90,212.22 L60.40,213.53 L59.90,214.02 L59.40,214.16 L58.90,215.44 L58.40,215.03 L57.90,215.86 L57.40,215.89 L56.90,215.28 L56.40,215.87 L55.90,214.87 L55.40,214.98 L54.90,213.44 L54.40,213.30 L53.90,213.04 L53.40,212.25 L52.90,212.99 L52.40,212.33 L51.90,212.18 L51.40,213.07 L50.90,212.89 L50.40,213.58 L49.90,213.66 L49.40,214.40 L48.90,214.91 L48.40,215.03 L47.90,215.71 L47.40,214.82 L46.90,215.05 L46.40,215.88 L45.90,215.53 L45.40,216.08 L44.90,215.89 L44.40,216.67 L43.90,216.85 L43.40,217.04 L42.90,217.34 L42.40,218.27 L41.90,219.11 L41.40,220.19 L40.90,219.96 L40.40,220.96 L39.90,221.27 L39.40,222.01 L38.90,223.03 L38.40,222.26 L37.90,223.36 L37.40,222.61 L36.90,229.76 L36.40,229.86 L35.90,229.66 L35.40,229.25 L34.90,229.36 Z" fill="#ffa028" stroke="#ffa028" stroke-width="0.2" stroke-linejoin="round"/>
<text class="src" x="15.4" y="443.8">Source: <tspan dx="2.6" textLength="42" lengthAdjust="spacingAndGlyphs">NYMEX</tspan><tspan dx="0.9">,</tspan><tspan dx="1.4"> Bloomberg</tspan></text>
<text class="logo" x="664.5" y="441">Bloomberg</text>
</svg>
</body></html>
